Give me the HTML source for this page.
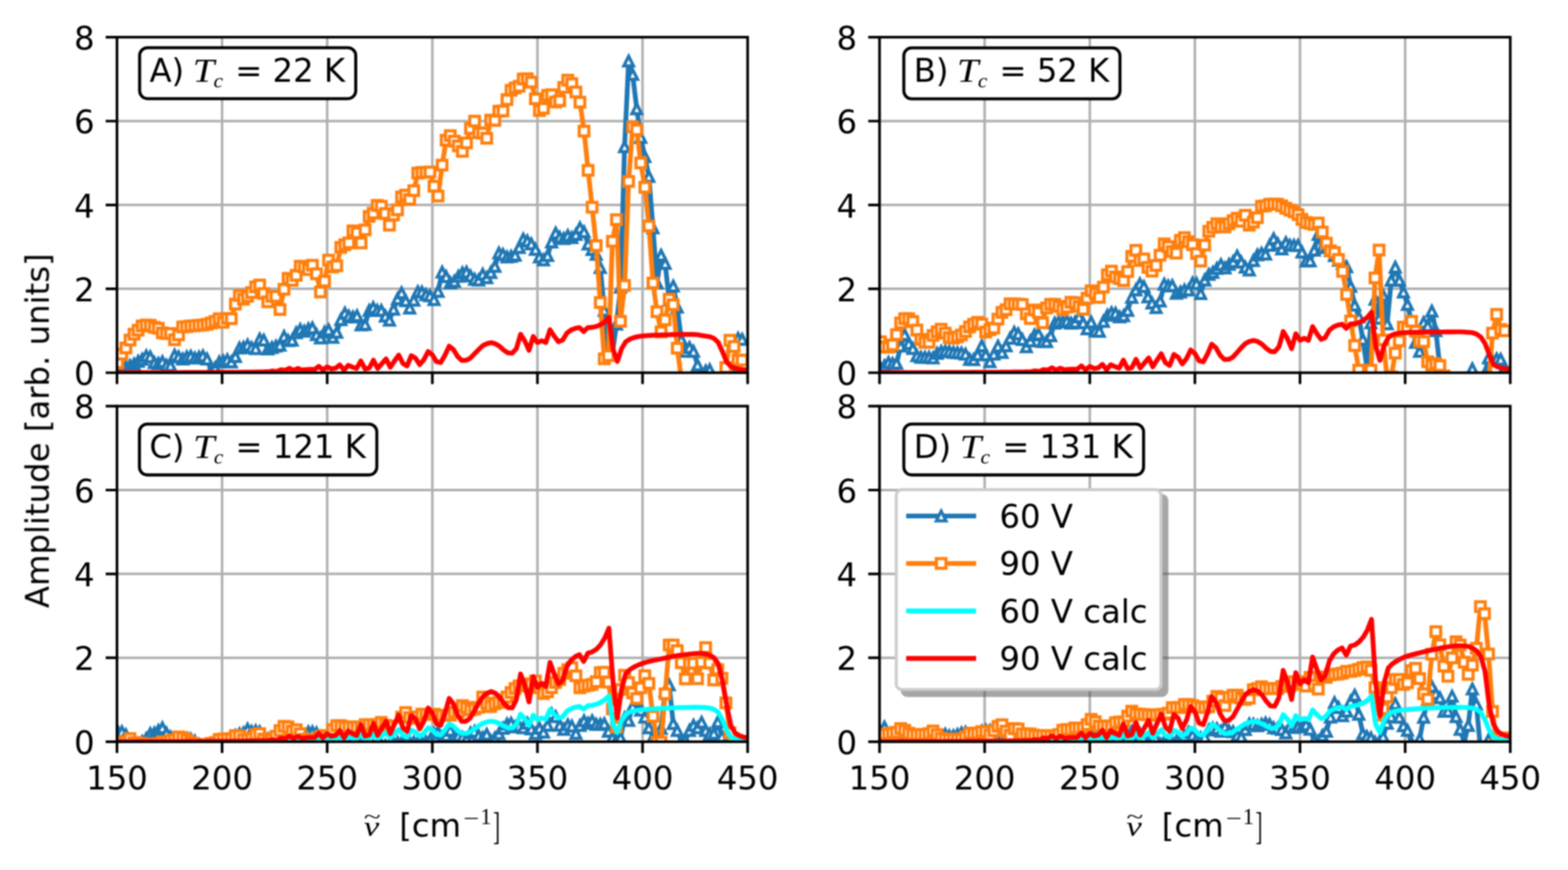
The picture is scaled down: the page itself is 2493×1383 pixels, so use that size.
<!DOCTYPE html>
<html lang="en"><head><meta charset="utf-8"><title>Amplitude spectra</title>
<style>html,body{margin:0;padding:0;background:#fff;overflow:hidden}svg{display:block}.t{font-family:'DejaVu Sans','Liberation Sans',sans-serif;font-size:51.4px;fill:#000}</style>
</head><body>
<svg xmlns="http://www.w3.org/2000/svg" width="2493" height="1383" viewBox="0 0 2493 1383">
<defs><rect id="ms" x="-7.7" y="-7.7" width="15.3" height="15.3" fill="#fff" stroke="#ff7f0e" stroke-width="5"/><path id="mt" d="M0 -7.7L-7.7 7.7L7.7 7.7z" fill="#fff" stroke="#1f77b4" stroke-width="5" stroke-linejoin="miter"/><filter id="bl" x="0" y="0" width="2493" height="1383" filterUnits="userSpaceOnUse" color-interpolation-filters="sRGB"><feGaussianBlur stdDeviation="0.8"/></filter></defs>
<rect width="2493" height="1383" fill="#fff"/>
<g filter="url(#bl)">
<g id="panelA">
<clipPath id="clipA"><rect x="186" y="59.1" width="1002.7" height="533.4"/></clipPath>
<path d="M353.1 59.1V592.5M520.2 59.1V592.5M687.4 59.1V592.5M854.5 59.1V592.5M1021.6 59.1V592.5M186 459.1H1188.7M186 325.8H1188.7M186 192.5H1188.7" stroke="#b0b0b0" stroke-width="4" fill="none"/>
<g clip-path="url(#clipA)">
<polyline points="187.3,589.2 193.8,587.1 200.2,583.4 206.7,581.4 213.1,578.8 219.6,574.6 226,571.4 232.5,565.7 238.9,567.3 245.4,576.6 251.8,577.7 258.2,575.1 264.7,580.8 271.1,581.4 277.6,564.6 284,567.3 290.5,570.9 296.9,567.3 303.3,566.2 309.8,569.4 316.3,567.8 322.7,565.7 329.2,570.9 335.6,588.6 342,585 348.5,575.6 354.9,574 361.4,572 367.8,575.6 374.3,566.8 380.7,553.2 387.1,552.2 393.6,548.5 400,552.7 406.5,554.2 412.9,539.1 419.4,540.7 425.8,554.8 432.3,552.6 438.7,550.4 445.2,548.7 451.6,534.8 458.1,541.6 464.5,540.9 470.9,529.1 477.4,523.9 483.8,526.5 490.3,522.8 496.7,521.2 503.2,532 509.6,537.2 516.1,528 522.5,524.5 529,536.4 535.4,528.4 541.9,508.2 548.3,497.8 554.7,502.5 561.2,504 567.6,502 574.1,516.6 580.5,515.8 587,493.6 593.4,489 599.8,493.6 606.3,493.6 612.7,502.6 619.2,509 625.7,491.6 632.1,475.1 638.5,465.5 645,478 651.4,489.8 657.9,477.2 664.3,463.9 670.8,464.4 677.2,468.6 683.6,470.2 690.1,476.2 696.5,463.2 703,432.6 709.4,439.9 715.9,449.8 722.3,447.2 728.8,439.4 735.2,433.7 741.7,432.6 748.1,438.9 754.6,444.1 761,445.4 767.5,436 773.9,441.5 780.3,433.4 786.8,423.5 793.2,402.3 799.7,404.5 806.1,408.6 812.6,407.5 819,405.8 825.5,393.5 831.9,380.1 838.4,383.1 844.8,387.7 851.3,396.6 857.7,408.6 864.1,413.3 870.6,406.3 877,384.9 883.5,370.5 889.9,377.3 896.4,379.4 902.8,374.5 909.2,377.9 915.7,372.9 922.1,362.2 928.6,368.5 935.1,388.1 941.5,396.7 947.9,404.3 954.4,425.4 960.8,493.4 967.3,553 973.7,561.7 980.2,515.3 986.6,456.5 993,233.4 999.5,97.1 1005.9,118.4 1012.4,173.1 1018.8,218.5 1025.3,249.1 1031.7,280.5 1038.2,362.3 1044.6,449.9 1051.1,405.9 1057.5,418.9 1064,477 1070.4,454.8 1076.8,488.2 1083.3,540 1089.7,558.5 1096.2,552.5 1102.6,558.5 1109.1,580.2 1115.5,594.2 1122,589.9 1128.4,587.8 1134.9,601.8 1141.3,607.3 1147.8,607.3 1154.2,607.3 1160.6,601.8 1167.1,580.2 1173.5,537.8 1180,539.5" fill="none" stroke="#1f77b4" stroke-width="7.6" stroke-linejoin="round" stroke-linecap="butt"/>
<use href="#mt" x="187.3" y="589.2"/><use href="#mt" x="193.8" y="587.1"/><use href="#mt" x="200.2" y="583.4"/><use href="#mt" x="206.7" y="581.4"/><use href="#mt" x="213.1" y="578.8"/><use href="#mt" x="219.6" y="574.6"/><use href="#mt" x="226" y="571.4"/><use href="#mt" x="232.5" y="565.7"/><use href="#mt" x="238.9" y="567.3"/><use href="#mt" x="245.4" y="576.6"/><use href="#mt" x="251.8" y="577.7"/><use href="#mt" x="258.2" y="575.1"/><use href="#mt" x="264.7" y="580.8"/><use href="#mt" x="271.1" y="581.4"/><use href="#mt" x="277.6" y="564.6"/><use href="#mt" x="284" y="567.3"/><use href="#mt" x="290.5" y="570.9"/><use href="#mt" x="296.9" y="567.3"/><use href="#mt" x="303.3" y="566.2"/><use href="#mt" x="309.8" y="569.4"/><use href="#mt" x="316.3" y="567.8"/><use href="#mt" x="322.7" y="565.7"/><use href="#mt" x="329.2" y="570.9"/><use href="#mt" x="335.6" y="588.6"/><use href="#mt" x="342" y="585"/><use href="#mt" x="348.5" y="575.6"/><use href="#mt" x="354.9" y="574"/><use href="#mt" x="361.4" y="572"/><use href="#mt" x="367.8" y="575.6"/><use href="#mt" x="374.3" y="566.8"/><use href="#mt" x="380.7" y="553.2"/><use href="#mt" x="387.1" y="552.2"/><use href="#mt" x="393.6" y="548.5"/><use href="#mt" x="400" y="552.7"/><use href="#mt" x="406.5" y="554.2"/><use href="#mt" x="412.9" y="539.1"/><use href="#mt" x="419.4" y="540.7"/><use href="#mt" x="425.8" y="554.8"/><use href="#mt" x="432.3" y="552.6"/><use href="#mt" x="438.7" y="550.4"/><use href="#mt" x="445.2" y="548.7"/><use href="#mt" x="451.6" y="534.8"/><use href="#mt" x="458.1" y="541.6"/><use href="#mt" x="464.5" y="540.9"/><use href="#mt" x="470.9" y="529.1"/><use href="#mt" x="477.4" y="523.9"/><use href="#mt" x="483.8" y="526.5"/><use href="#mt" x="490.3" y="522.8"/><use href="#mt" x="496.7" y="521.2"/><use href="#mt" x="503.2" y="532"/><use href="#mt" x="509.6" y="537.2"/><use href="#mt" x="516.1" y="528"/><use href="#mt" x="522.5" y="524.5"/><use href="#mt" x="529" y="536.4"/><use href="#mt" x="535.4" y="528.4"/><use href="#mt" x="541.9" y="508.2"/><use href="#mt" x="548.3" y="497.8"/><use href="#mt" x="554.7" y="502.5"/><use href="#mt" x="561.2" y="504"/><use href="#mt" x="567.6" y="502"/><use href="#mt" x="574.1" y="516.6"/><use href="#mt" x="580.5" y="515.8"/><use href="#mt" x="587" y="493.6"/><use href="#mt" x="593.4" y="489"/><use href="#mt" x="599.8" y="493.6"/><use href="#mt" x="606.3" y="493.6"/><use href="#mt" x="612.7" y="502.6"/><use href="#mt" x="619.2" y="509"/><use href="#mt" x="625.7" y="491.6"/><use href="#mt" x="632.1" y="475.1"/><use href="#mt" x="638.5" y="465.5"/><use href="#mt" x="645" y="478"/><use href="#mt" x="651.4" y="489.8"/><use href="#mt" x="657.9" y="477.2"/><use href="#mt" x="664.3" y="463.9"/><use href="#mt" x="670.8" y="464.4"/><use href="#mt" x="677.2" y="468.6"/><use href="#mt" x="683.6" y="470.2"/><use href="#mt" x="690.1" y="476.2"/><use href="#mt" x="696.5" y="463.2"/><use href="#mt" x="703" y="432.6"/><use href="#mt" x="709.4" y="439.9"/><use href="#mt" x="715.9" y="449.8"/><use href="#mt" x="722.3" y="447.2"/><use href="#mt" x="728.8" y="439.4"/><use href="#mt" x="735.2" y="433.7"/><use href="#mt" x="741.7" y="432.6"/><use href="#mt" x="748.1" y="438.9"/><use href="#mt" x="754.6" y="444.1"/><use href="#mt" x="761" y="445.4"/><use href="#mt" x="767.5" y="436"/><use href="#mt" x="773.9" y="441.5"/><use href="#mt" x="780.3" y="433.4"/><use href="#mt" x="786.8" y="423.5"/><use href="#mt" x="793.2" y="402.3"/><use href="#mt" x="799.7" y="404.5"/><use href="#mt" x="806.1" y="408.6"/><use href="#mt" x="812.6" y="407.5"/><use href="#mt" x="819" y="405.8"/><use href="#mt" x="825.5" y="393.5"/><use href="#mt" x="831.9" y="380.1"/><use href="#mt" x="838.4" y="383.1"/><use href="#mt" x="844.8" y="387.7"/><use href="#mt" x="851.3" y="396.6"/><use href="#mt" x="857.7" y="408.6"/><use href="#mt" x="864.1" y="413.3"/><use href="#mt" x="870.6" y="406.3"/><use href="#mt" x="877" y="384.9"/><use href="#mt" x="883.5" y="370.5"/><use href="#mt" x="889.9" y="377.3"/><use href="#mt" x="896.4" y="379.4"/><use href="#mt" x="902.8" y="374.5"/><use href="#mt" x="909.2" y="377.9"/><use href="#mt" x="915.7" y="372.9"/><use href="#mt" x="922.1" y="362.2"/><use href="#mt" x="928.6" y="368.5"/><use href="#mt" x="935.1" y="388.1"/><use href="#mt" x="941.5" y="396.7"/><use href="#mt" x="947.9" y="404.3"/><use href="#mt" x="954.4" y="425.4"/><use href="#mt" x="960.8" y="493.4"/><use href="#mt" x="967.3" y="553"/><use href="#mt" x="973.7" y="561.7"/><use href="#mt" x="980.2" y="515.3"/><use href="#mt" x="986.6" y="456.5"/><use href="#mt" x="993" y="233.4"/><use href="#mt" x="999.5" y="97.1"/><use href="#mt" x="1005.9" y="118.4"/><use href="#mt" x="1012.4" y="173.1"/><use href="#mt" x="1018.8" y="218.5"/><use href="#mt" x="1025.3" y="249.1"/><use href="#mt" x="1031.7" y="280.5"/><use href="#mt" x="1038.2" y="362.3"/><use href="#mt" x="1044.6" y="449.9"/><use href="#mt" x="1051.1" y="405.9"/><use href="#mt" x="1057.5" y="418.9"/><use href="#mt" x="1064" y="477"/><use href="#mt" x="1070.4" y="454.8"/><use href="#mt" x="1076.8" y="488.2"/><use href="#mt" x="1083.3" y="540"/><use href="#mt" x="1089.7" y="558.5"/><use href="#mt" x="1096.2" y="552.5"/><use href="#mt" x="1102.6" y="558.5"/><use href="#mt" x="1109.1" y="580.2"/><use href="#mt" x="1115.5" y="594.2"/><use href="#mt" x="1122" y="589.9"/><use href="#mt" x="1128.4" y="587.8"/><use href="#mt" x="1134.9" y="601.8"/><use href="#mt" x="1141.3" y="607.3"/><use href="#mt" x="1147.8" y="607.3"/><use href="#mt" x="1154.2" y="607.3"/><use href="#mt" x="1160.6" y="601.8"/><use href="#mt" x="1167.1" y="580.2"/><use href="#mt" x="1173.5" y="537.8"/><use href="#mt" x="1180" y="539.5"/>
<polyline points="187.3,577 193.8,563.1 200.2,553.2 206.7,540.7 213.1,531.3 219.6,525 226,518.2 232.5,516.7 238.9,517.2 245.4,520.4 251.8,521.9 258.2,529.2 264.7,530.2 271.1,530.2 277.6,540.2 284,532.4 290.5,519.8 296.9,519.3 303.3,518.2 309.8,517.8 316.3,517.2 322.7,516.7 329.2,515.6 335.6,513.6 342,511 348.5,506.8 354.9,512.5 361.4,506.3 367.8,506.6 374.3,483.5 380.7,469.8 387.1,475.7 393.6,471.2 400,465.2 406.5,456.1 412.9,453.1 419.4,466.6 425.8,479.8 432.3,471.2 438.7,471.2 445.2,492.1 451.6,460 458.1,442.5 464.5,445.8 470.9,437.7 477.4,423.2 483.8,424.5 490.3,428.6 496.7,421.7 503.2,435.3 509.6,464.2 516.1,447 522.5,413.6 529,424.5 535.4,422.5 541.9,393.3 548.3,389.1 554.7,386.1 561.2,367 567.6,370.1 574.1,386.3 580.5,365.5 587,344.1 593.4,338.9 599.8,326.5 606.3,327.9 612.7,339.5 619.2,358 625.7,341.8 632.1,333.7 638.5,313.1 645,310.2 651.4,316.9 657.9,303.1 664.3,275.3 670.8,274.1 677.2,274.1 683.6,273.5 690.1,296.1 696.5,311.7 703,262.5 709.4,222.9 715.9,215.7 722.3,224.4 728.8,231.9 735.2,240.6 741.7,227.3 748.1,204.4 754.6,192.6 761,211.1 767.5,211.7 773.9,219.8 780.3,191 786.8,191.4 793.2,176.9 799.7,176.4 806.1,158.4 812.6,143.6 819,139.9 825.5,137.2 831.9,125.7 838.4,125.2 844.8,130.6 851.3,157.2 857.7,175.8 864.1,172.3 870.6,151.7 877,150.6 883.5,162.1 889.9,160.2 896.4,139 902.8,127.4 909.2,133 915.7,146.3 922.1,162.5 928.6,208.5 935.1,270.9 941.5,329.5 947.9,390.5 954.4,480.9 960.8,570.4 967.3,565.5 973.7,383.7 980.2,349.3 986.6,510.8 993,453.8 999.5,288.5 1005.9,201.8 1012.4,206.5 1018.8,259.1 1025.3,297.8 1031.7,359.3 1038.2,449.9 1044.6,495.6 1051.1,527.6 1057.5,508.6 1064,475.8 1070.4,484.5 1076.8,553.6 1083.3,601.8 1089.7,612.7 1096.2,612.7 1102.6,612.7 1109.1,612.7 1115.5,612.7 1122,612.7 1128.4,612.7 1134.9,612.7 1141.3,612.7 1147.8,601.8 1154.2,584.3 1160.6,540.9 1167.1,550.9 1173.5,572.4 1180,572.6" fill="none" stroke="#ff7f0e" stroke-width="7.6" stroke-linejoin="round" stroke-linecap="butt"/>
<use href="#ms" x="187.3" y="577"/><use href="#ms" x="193.8" y="563.1"/><use href="#ms" x="200.2" y="553.2"/><use href="#ms" x="206.7" y="540.7"/><use href="#ms" x="213.1" y="531.3"/><use href="#ms" x="219.6" y="525"/><use href="#ms" x="226" y="518.2"/><use href="#ms" x="232.5" y="516.7"/><use href="#ms" x="238.9" y="517.2"/><use href="#ms" x="245.4" y="520.4"/><use href="#ms" x="251.8" y="521.9"/><use href="#ms" x="258.2" y="529.2"/><use href="#ms" x="264.7" y="530.2"/><use href="#ms" x="271.1" y="530.2"/><use href="#ms" x="277.6" y="540.2"/><use href="#ms" x="284" y="532.4"/><use href="#ms" x="290.5" y="519.8"/><use href="#ms" x="296.9" y="519.3"/><use href="#ms" x="303.3" y="518.2"/><use href="#ms" x="309.8" y="517.8"/><use href="#ms" x="316.3" y="517.2"/><use href="#ms" x="322.7" y="516.7"/><use href="#ms" x="329.2" y="515.6"/><use href="#ms" x="335.6" y="513.6"/><use href="#ms" x="342" y="511"/><use href="#ms" x="348.5" y="506.8"/><use href="#ms" x="354.9" y="512.5"/><use href="#ms" x="361.4" y="506.3"/><use href="#ms" x="367.8" y="506.6"/><use href="#ms" x="374.3" y="483.5"/><use href="#ms" x="380.7" y="469.8"/><use href="#ms" x="387.1" y="475.7"/><use href="#ms" x="393.6" y="471.2"/><use href="#ms" x="400" y="465.2"/><use href="#ms" x="406.5" y="456.1"/><use href="#ms" x="412.9" y="453.1"/><use href="#ms" x="419.4" y="466.6"/><use href="#ms" x="425.8" y="479.8"/><use href="#ms" x="432.3" y="471.2"/><use href="#ms" x="438.7" y="471.2"/><use href="#ms" x="445.2" y="492.1"/><use href="#ms" x="451.6" y="460"/><use href="#ms" x="458.1" y="442.5"/><use href="#ms" x="464.5" y="445.8"/><use href="#ms" x="470.9" y="437.7"/><use href="#ms" x="477.4" y="423.2"/><use href="#ms" x="483.8" y="424.5"/><use href="#ms" x="490.3" y="428.6"/><use href="#ms" x="496.7" y="421.7"/><use href="#ms" x="503.2" y="435.3"/><use href="#ms" x="509.6" y="464.2"/><use href="#ms" x="516.1" y="447"/><use href="#ms" x="522.5" y="413.6"/><use href="#ms" x="529" y="424.5"/><use href="#ms" x="535.4" y="422.5"/><use href="#ms" x="541.9" y="393.3"/><use href="#ms" x="548.3" y="389.1"/><use href="#ms" x="554.7" y="386.1"/><use href="#ms" x="561.2" y="367"/><use href="#ms" x="567.6" y="370.1"/><use href="#ms" x="574.1" y="386.3"/><use href="#ms" x="580.5" y="365.5"/><use href="#ms" x="587" y="344.1"/><use href="#ms" x="593.4" y="338.9"/><use href="#ms" x="599.8" y="326.5"/><use href="#ms" x="606.3" y="327.9"/><use href="#ms" x="612.7" y="339.5"/><use href="#ms" x="619.2" y="358"/><use href="#ms" x="625.7" y="341.8"/><use href="#ms" x="632.1" y="333.7"/><use href="#ms" x="638.5" y="313.1"/><use href="#ms" x="645" y="310.2"/><use href="#ms" x="651.4" y="316.9"/><use href="#ms" x="657.9" y="303.1"/><use href="#ms" x="664.3" y="275.3"/><use href="#ms" x="670.8" y="274.1"/><use href="#ms" x="677.2" y="274.1"/><use href="#ms" x="683.6" y="273.5"/><use href="#ms" x="690.1" y="296.1"/><use href="#ms" x="696.5" y="311.7"/><use href="#ms" x="703" y="262.5"/><use href="#ms" x="709.4" y="222.9"/><use href="#ms" x="715.9" y="215.7"/><use href="#ms" x="722.3" y="224.4"/><use href="#ms" x="728.8" y="231.9"/><use href="#ms" x="735.2" y="240.6"/><use href="#ms" x="741.7" y="227.3"/><use href="#ms" x="748.1" y="204.4"/><use href="#ms" x="754.6" y="192.6"/><use href="#ms" x="761" y="211.1"/><use href="#ms" x="767.5" y="211.7"/><use href="#ms" x="773.9" y="219.8"/><use href="#ms" x="780.3" y="191"/><use href="#ms" x="786.8" y="191.4"/><use href="#ms" x="793.2" y="176.9"/><use href="#ms" x="799.7" y="176.4"/><use href="#ms" x="806.1" y="158.4"/><use href="#ms" x="812.6" y="143.6"/><use href="#ms" x="819" y="139.9"/><use href="#ms" x="825.5" y="137.2"/><use href="#ms" x="831.9" y="125.7"/><use href="#ms" x="838.4" y="125.2"/><use href="#ms" x="844.8" y="130.6"/><use href="#ms" x="851.3" y="157.2"/><use href="#ms" x="857.7" y="175.8"/><use href="#ms" x="864.1" y="172.3"/><use href="#ms" x="870.6" y="151.7"/><use href="#ms" x="877" y="150.6"/><use href="#ms" x="883.5" y="162.1"/><use href="#ms" x="889.9" y="160.2"/><use href="#ms" x="896.4" y="139"/><use href="#ms" x="902.8" y="127.4"/><use href="#ms" x="909.2" y="133"/><use href="#ms" x="915.7" y="146.3"/><use href="#ms" x="922.1" y="162.5"/><use href="#ms" x="928.6" y="208.5"/><use href="#ms" x="935.1" y="270.9"/><use href="#ms" x="941.5" y="329.5"/><use href="#ms" x="947.9" y="390.5"/><use href="#ms" x="954.4" y="480.9"/><use href="#ms" x="960.8" y="570.4"/><use href="#ms" x="967.3" y="565.5"/><use href="#ms" x="973.7" y="383.7"/><use href="#ms" x="980.2" y="349.3"/><use href="#ms" x="986.6" y="510.8"/><use href="#ms" x="993" y="453.8"/><use href="#ms" x="999.5" y="288.5"/><use href="#ms" x="1005.9" y="201.8"/><use href="#ms" x="1012.4" y="206.5"/><use href="#ms" x="1018.8" y="259.1"/><use href="#ms" x="1025.3" y="297.8"/><use href="#ms" x="1031.7" y="359.3"/><use href="#ms" x="1038.2" y="449.9"/><use href="#ms" x="1044.6" y="495.6"/><use href="#ms" x="1051.1" y="527.6"/><use href="#ms" x="1057.5" y="508.6"/><use href="#ms" x="1064" y="475.8"/><use href="#ms" x="1070.4" y="484.5"/><use href="#ms" x="1076.8" y="553.6"/><use href="#ms" x="1083.3" y="601.8"/><use href="#ms" x="1089.7" y="612.7"/><use href="#ms" x="1096.2" y="612.7"/><use href="#ms" x="1102.6" y="612.7"/><use href="#ms" x="1109.1" y="612.7"/><use href="#ms" x="1115.5" y="612.7"/><use href="#ms" x="1122" y="612.7"/><use href="#ms" x="1128.4" y="612.7"/><use href="#ms" x="1134.9" y="612.7"/><use href="#ms" x="1141.3" y="612.7"/><use href="#ms" x="1147.8" y="601.8"/><use href="#ms" x="1154.2" y="584.3"/><use href="#ms" x="1160.6" y="540.9"/><use href="#ms" x="1167.1" y="550.9"/><use href="#ms" x="1173.5" y="572.4"/><use href="#ms" x="1180" y="572.6"/>
<polyline points="186,592.5 192.7,592.5 199.4,592.4 206.1,592.4 212.7,592.4 219.4,592.4 226.1,592.4 232.8,592.3 239.5,592.3 246.2,592.3 252.8,592.3 259.5,592.2 266.2,592.2 272.9,592.2 279.6,592.2 286.3,592.2 293,592.1 299.6,592.1 306.3,592.1 313,592.1 319.7,592 326.4,592 333.1,592 339.7,591.9 346.4,591.9 353.1,591.9 359.8,591.8 366.5,591.8 373.2,591.7 379.9,591.7 386.5,591.6 393.2,591.6 399.9,591.5 406.6,591.4 413.3,591.3 420,591.1 426.6,590.9 433.3,589.8 440,590.6 446.7,587.7 453.4,588.6 460.1,585.3 466.8,588.6 473.4,585.7 480.1,588.1 486.8,587.5 493.5,587.1 500.2,587.4 506.9,582.4 513.5,588 520.2,583.2 526.9,586.2 533.6,585.3 540.3,580.1 547,588.2 553.7,580.7 560.3,583.6 567,585.6 573.7,573.8 580.4,586.4 587.1,585 593.8,572.6 600.4,585.6 607.1,578.1 613.8,570.5 620.5,583.8 627.2,573.8 633.9,564.4 640.6,577.8 647.2,581.8 653.9,565.4 660.6,569.3 667.3,579.6 674,571.8 680.7,558.8 687.4,564.1 694,574.9 700.7,576.3 707.4,564.9 714.1,550.3 720.8,555.6 727.5,566.6 734.1,572.9 740.8,572.8 747.5,569.6 754.2,562.7 760.9,555.8 767.6,549.4 774.3,546.2 780.9,544.7 787.6,546.5 794.3,550.6 801,556.6 807.7,561 814.4,561.5 821,554.2 827.7,531.4 834.4,542 841.1,557 847.8,534.9 854.5,544.6 861.2,541.6 867.8,544.6 874.5,524.2 881.2,534.5 887.9,543.3 894.6,540.6 901.3,529.5 907.9,524.6 914.6,522 921.3,520.8 928,526.9 934.7,520.7 941.4,520.4 948.1,518.9 954.7,516.2 961.4,511.6 968.1,504.5 974.8,555.5 981.5,574.5 988.2,554.4 994.8,543.4 1001.5,539 1008.2,536.5 1014.9,535 1021.6,534.1 1028.3,533.5 1035,533.1 1041.6,532.8 1048.3,532.6 1055,532.4 1061.7,532.2 1068.4,531.9 1075.1,531.7 1081.7,531.6 1088.4,531.6 1095.1,531.6 1101.8,531.6 1108.5,532 1115.2,533.2 1121.9,534.3 1128.5,535.2 1135.2,538 1141.9,544.3 1148.6,558.9 1155.3,575.3 1162,582.4 1168.6,585.3 1175.3,586.7 1182,587.6 1188.7,588" fill="none" stroke="#ff0000" stroke-width="7.6" stroke-linejoin="round" stroke-linecap="butt"/>
</g>
<path d="M186 592.5v18M353.1 592.5v18M520.2 592.5v18M687.4 592.5v18M854.5 592.5v18M1021.6 592.5v18M1188.7 592.5v18M186 592.5h-18M186 459.1h-18M186 325.8h-18M186 192.5h-18M186 59.1h-18" stroke="#000" stroke-width="4.2" fill="none"/>
<rect x="186" y="59.1" width="1002.7" height="533.4" fill="none" stroke="#000" stroke-width="4.2" stroke-linejoin="miter"/>
<text x="150.4" y="612.2" text-anchor="end" class="t">0</text>
<text x="150.4" y="478.8" text-anchor="end" class="t">2</text>
<text x="150.4" y="345.5" text-anchor="end" class="t">4</text>
<text x="150.4" y="212.2" text-anchor="end" class="t">6</text>
<text x="150.4" y="78.8" text-anchor="end" class="t">8</text>
<rect x="222" y="75.9" width="343.6" height="80.9" rx="12.5" ry="12.5" fill="#fff" stroke="#000" stroke-width="4.8"/>
<text x="237.7" y="130.1" class="t">A)</text>
<text transform="translate(306.5,130.1) scale(1.163,1)" style="font-family:'Liberation Serif','DejaVu Serif',serif;font-style:italic;font-size:52.9px">T</text>
<text transform="translate(339.6,138.7) scale(1.055,1)" style="font-family:'Liberation Serif','DejaVu Serif',serif;font-style:italic;font-size:32.1px">c</text>
<text x="373.9" y="130.1" class="t" xml:space="preserve">= 22 K</text>
</g>
<g id="panelB">
<clipPath id="clipB"><rect x="1398.4" y="59.1" width="1002.8" height="533.4"/></clipPath>
<path d="M1565.5 59.1V592.5M1732.7 59.1V592.5M1899.8 59.1V592.5M2066.9 59.1V592.5M2234.1 59.1V592.5M1398.4 459.1H2401.2M1398.4 325.8H2401.2M1398.4 192.5H2401.2" stroke="#b0b0b0" stroke-width="4" fill="none"/>
<g clip-path="url(#clipB)">
<polyline points="1399.7,585 1406.2,581.6 1412.6,576.4 1419.1,578 1425.5,577.6 1432,550.4 1438.4,532 1444.9,546.2 1451.3,554.1 1457.8,565.6 1464.2,568 1470.6,568 1477.1,568 1483.5,569.1 1490,561.7 1496.4,558.9 1502.9,558.3 1509.3,559.1 1515.8,560.2 1522.2,560.7 1528.7,561.2 1535.1,563 1541.6,571.4 1548,571.9 1554.4,564 1560.9,549.9 1567.3,564 1573.8,575 1580.2,563 1586.7,550.2 1593.1,560.4 1599.6,549.9 1606,537.8 1612.5,528.2 1618.9,530.9 1625.4,539.9 1631.8,551.4 1638.2,542 1644.7,532.6 1651.1,531.2 1657.6,543.1 1664,543.1 1670.5,533.8 1676.9,513.7 1683.4,511.8 1689.8,511.8 1696.3,510.4 1702.7,513.8 1709.2,512.4 1715.6,503.9 1722.1,513.2 1728.5,522.8 1734.9,512.1 1741.4,526.2 1747.8,526.7 1754.3,511.1 1760.7,501.3 1767.2,497.2 1773.6,498 1780.1,503.9 1786.5,502.1 1793,493.5 1799.4,472.7 1805.9,461 1812.3,451.2 1818.7,455.6 1825.2,472 1831.6,481.8 1838.1,489 1844.5,478.6 1851,451.9 1857.4,454.5 1863.9,454.1 1870.3,466.3 1876.8,464.2 1883.2,461 1889.7,461 1896.1,450.1 1902.5,450.9 1909,466.7 1915.4,445.2 1921.9,436.2 1928.3,433 1934.8,426.7 1941.2,420.7 1947.7,426.1 1954.1,420.4 1960.6,416.1 1967,407.1 1973.5,416.7 1979.9,424.9 1986.3,429.3 1992.8,414.4 1999.2,405.2 2005.7,402.9 2012.1,404.1 2018.6,390.1 2025,379.5 2031.5,387.6 2037.9,395.8 2044.4,385.9 2050.8,390 2057.3,390 2063.7,390.4 2070.1,400.9 2076.6,415.1 2083,414.8 2089.5,397.7 2095.9,372.7 2102.4,393.5 2108.9,393.5 2115.3,398.6 2121.7,406.2 2128.2,413.8 2134.6,418.9 2141.1,424.2 2147.5,455.3 2153.9,485.1 2160.4,503.9 2166.8,539.4 2173.3,584.3 2179.7,513.2 2186.2,475.8 2192.7,506.1 2199.1,469.6 2205.5,514.8 2212,445.5 2218.4,424.7 2224.9,445.5 2231.3,464.3 2237.8,484.1 2244.2,511.3 2250.6,544.4 2257.1,558.6 2263.5,512.8 2270,518 2276.5,494.5 2282.9,525.7 2289.3,584.3 2295.8,605.2 2302.2,610.4 2308.7,610.4 2315.1,610.4 2321.6,610.4 2328,610.4 2334.4,600 2340.9,586.3 2347.3,600 2353.8,605.2 2360.3,594.7 2366.7,569 2373.1,573.8 2379.6,570.6 2386,571.2 2392.5,584.3" fill="none" stroke="#1f77b4" stroke-width="7.6" stroke-linejoin="round" stroke-linecap="butt"/>
<use href="#mt" x="1399.7" y="585"/><use href="#mt" x="1406.2" y="581.6"/><use href="#mt" x="1412.6" y="576.4"/><use href="#mt" x="1419.1" y="578"/><use href="#mt" x="1425.5" y="577.6"/><use href="#mt" x="1432" y="550.4"/><use href="#mt" x="1438.4" y="532"/><use href="#mt" x="1444.9" y="546.2"/><use href="#mt" x="1451.3" y="554.1"/><use href="#mt" x="1457.8" y="565.6"/><use href="#mt" x="1464.2" y="568"/><use href="#mt" x="1470.6" y="568"/><use href="#mt" x="1477.1" y="568"/><use href="#mt" x="1483.5" y="569.1"/><use href="#mt" x="1490" y="561.7"/><use href="#mt" x="1496.4" y="558.9"/><use href="#mt" x="1502.9" y="558.3"/><use href="#mt" x="1509.3" y="559.1"/><use href="#mt" x="1515.8" y="560.2"/><use href="#mt" x="1522.2" y="560.7"/><use href="#mt" x="1528.7" y="561.2"/><use href="#mt" x="1535.1" y="563"/><use href="#mt" x="1541.6" y="571.4"/><use href="#mt" x="1548" y="571.9"/><use href="#mt" x="1554.4" y="564"/><use href="#mt" x="1560.9" y="549.9"/><use href="#mt" x="1567.3" y="564"/><use href="#mt" x="1573.8" y="575"/><use href="#mt" x="1580.2" y="563"/><use href="#mt" x="1586.7" y="550.2"/><use href="#mt" x="1593.1" y="560.4"/><use href="#mt" x="1599.6" y="549.9"/><use href="#mt" x="1606" y="537.8"/><use href="#mt" x="1612.5" y="528.2"/><use href="#mt" x="1618.9" y="530.9"/><use href="#mt" x="1625.4" y="539.9"/><use href="#mt" x="1631.8" y="551.4"/><use href="#mt" x="1638.2" y="542"/><use href="#mt" x="1644.7" y="532.6"/><use href="#mt" x="1651.1" y="531.2"/><use href="#mt" x="1657.6" y="543.1"/><use href="#mt" x="1664" y="543.1"/><use href="#mt" x="1670.5" y="533.8"/><use href="#mt" x="1676.9" y="513.7"/><use href="#mt" x="1683.4" y="511.8"/><use href="#mt" x="1689.8" y="511.8"/><use href="#mt" x="1696.3" y="510.4"/><use href="#mt" x="1702.7" y="513.8"/><use href="#mt" x="1709.2" y="512.4"/><use href="#mt" x="1715.6" y="503.9"/><use href="#mt" x="1722.1" y="513.2"/><use href="#mt" x="1728.5" y="522.8"/><use href="#mt" x="1734.9" y="512.1"/><use href="#mt" x="1741.4" y="526.2"/><use href="#mt" x="1747.8" y="526.7"/><use href="#mt" x="1754.3" y="511.1"/><use href="#mt" x="1760.7" y="501.3"/><use href="#mt" x="1767.2" y="497.2"/><use href="#mt" x="1773.6" y="498"/><use href="#mt" x="1780.1" y="503.9"/><use href="#mt" x="1786.5" y="502.1"/><use href="#mt" x="1793" y="493.5"/><use href="#mt" x="1799.4" y="472.7"/><use href="#mt" x="1805.9" y="461"/><use href="#mt" x="1812.3" y="451.2"/><use href="#mt" x="1818.7" y="455.6"/><use href="#mt" x="1825.2" y="472"/><use href="#mt" x="1831.6" y="481.8"/><use href="#mt" x="1838.1" y="489"/><use href="#mt" x="1844.5" y="478.6"/><use href="#mt" x="1851" y="451.9"/><use href="#mt" x="1857.4" y="454.5"/><use href="#mt" x="1863.9" y="454.1"/><use href="#mt" x="1870.3" y="466.3"/><use href="#mt" x="1876.8" y="464.2"/><use href="#mt" x="1883.2" y="461"/><use href="#mt" x="1889.7" y="461"/><use href="#mt" x="1896.1" y="450.1"/><use href="#mt" x="1902.5" y="450.9"/><use href="#mt" x="1909" y="466.7"/><use href="#mt" x="1915.4" y="445.2"/><use href="#mt" x="1921.9" y="436.2"/><use href="#mt" x="1928.3" y="433"/><use href="#mt" x="1934.8" y="426.7"/><use href="#mt" x="1941.2" y="420.7"/><use href="#mt" x="1947.7" y="426.1"/><use href="#mt" x="1954.1" y="420.4"/><use href="#mt" x="1960.6" y="416.1"/><use href="#mt" x="1967" y="407.1"/><use href="#mt" x="1973.5" y="416.7"/><use href="#mt" x="1979.9" y="424.9"/><use href="#mt" x="1986.3" y="429.3"/><use href="#mt" x="1992.8" y="414.4"/><use href="#mt" x="1999.2" y="405.2"/><use href="#mt" x="2005.7" y="402.9"/><use href="#mt" x="2012.1" y="404.1"/><use href="#mt" x="2018.6" y="390.1"/><use href="#mt" x="2025" y="379.5"/><use href="#mt" x="2031.5" y="387.6"/><use href="#mt" x="2037.9" y="395.8"/><use href="#mt" x="2044.4" y="385.9"/><use href="#mt" x="2050.8" y="390"/><use href="#mt" x="2057.3" y="390"/><use href="#mt" x="2063.7" y="390.4"/><use href="#mt" x="2070.1" y="400.9"/><use href="#mt" x="2076.6" y="415.1"/><use href="#mt" x="2083" y="414.8"/><use href="#mt" x="2089.5" y="397.7"/><use href="#mt" x="2095.9" y="372.7"/><use href="#mt" x="2102.4" y="393.5"/><use href="#mt" x="2108.9" y="393.5"/><use href="#mt" x="2115.3" y="398.6"/><use href="#mt" x="2121.7" y="406.2"/><use href="#mt" x="2128.2" y="413.8"/><use href="#mt" x="2134.6" y="418.9"/><use href="#mt" x="2141.1" y="424.2"/><use href="#mt" x="2147.5" y="455.3"/><use href="#mt" x="2153.9" y="485.1"/><use href="#mt" x="2160.4" y="503.9"/><use href="#mt" x="2166.8" y="539.4"/><use href="#mt" x="2173.3" y="584.3"/><use href="#mt" x="2179.7" y="513.2"/><use href="#mt" x="2186.2" y="475.8"/><use href="#mt" x="2192.7" y="506.1"/><use href="#mt" x="2199.1" y="469.6"/><use href="#mt" x="2205.5" y="514.8"/><use href="#mt" x="2212" y="445.5"/><use href="#mt" x="2218.4" y="424.7"/><use href="#mt" x="2224.9" y="445.5"/><use href="#mt" x="2231.3" y="464.3"/><use href="#mt" x="2237.8" y="484.1"/><use href="#mt" x="2244.2" y="511.3"/><use href="#mt" x="2250.6" y="544.4"/><use href="#mt" x="2257.1" y="558.6"/><use href="#mt" x="2263.5" y="512.8"/><use href="#mt" x="2270" y="518"/><use href="#mt" x="2276.5" y="494.5"/><use href="#mt" x="2282.9" y="525.7"/><use href="#mt" x="2289.3" y="584.3"/><use href="#mt" x="2295.8" y="605.2"/><use href="#mt" x="2302.2" y="610.4"/><use href="#mt" x="2308.7" y="610.4"/><use href="#mt" x="2315.1" y="610.4"/><use href="#mt" x="2321.6" y="610.4"/><use href="#mt" x="2328" y="610.4"/><use href="#mt" x="2334.4" y="600"/><use href="#mt" x="2340.9" y="586.3"/><use href="#mt" x="2347.3" y="600"/><use href="#mt" x="2353.8" y="605.2"/><use href="#mt" x="2360.3" y="594.7"/><use href="#mt" x="2366.7" y="569"/><use href="#mt" x="2373.1" y="573.8"/><use href="#mt" x="2379.6" y="570.6"/><use href="#mt" x="2386" y="571.2"/><use href="#mt" x="2392.5" y="584.3"/>
<polyline points="1399.7,543.3 1406.2,551.4 1412.6,552 1419.1,548.3 1425.5,532 1432,513.4 1438.4,506.6 1444.9,506.6 1451.3,511.1 1457.8,524.7 1464.2,539.6 1470.6,544.4 1477.1,544.1 1483.5,533.3 1490,527.6 1496.4,523.4 1502.9,529.6 1509.3,536.6 1515.8,537.6 1522.2,535.7 1528.7,532.6 1535.1,527 1541.6,519.7 1548,515.5 1554.4,512.4 1560.9,515 1567.3,527.9 1573.8,524.2 1580.2,521.6 1586.7,507.4 1593.1,496.6 1599.6,492.4 1606,483 1612.5,483 1618.9,483.5 1625.4,484 1631.8,499 1638.2,506.4 1644.7,492.8 1651.1,496.9 1657.6,513.2 1664,489.6 1670.5,483.8 1676.9,483.8 1683.4,487.1 1689.8,492.4 1696.3,488.4 1702.7,480.5 1709.2,481.3 1715.6,487.1 1722.1,491.7 1728.5,474.1 1734.9,462.3 1741.4,467 1747.8,472.8 1754.3,456.5 1760.7,436.9 1767.2,431 1773.6,440.3 1780.1,442.9 1786.5,446.1 1793,431.8 1799.4,407.6 1805.9,398 1812.3,414.1 1818.7,411.6 1825.2,425.1 1831.6,431.1 1838.1,422.1 1844.5,405.8 1851,387.7 1857.4,392.1 1863.9,399.9 1870.3,402.5 1876.8,382.2 1883.2,377.8 1889.7,384.3 1896.1,389.1 1902.5,403.1 1909,415.1 1915.4,389.7 1921.9,367.7 1928.3,361.4 1934.8,355.7 1941.2,360.7 1947.7,360.7 1954.1,355.6 1960.6,350.7 1967,346.9 1973.5,351.8 1979.9,342.3 1986.3,358 1992.8,353.1 1999.2,346.1 2005.7,327.9 2012.1,327.3 2018.6,324.7 2025,324.5 2031.5,324.7 2037.9,327.3 2044.4,331.1 2050.8,334.1 2057.3,336.7 2063.7,341.2 2070.1,348.8 2076.6,353.7 2083,355.1 2089.5,356.9 2095.9,354.6 2102.4,368.9 2108.9,386.6 2115.3,398.7 2121.7,401.5 2128.2,412.5 2134.6,431.5 2141.1,468.2 2147.5,510.2 2153.9,549.4 2160.4,588.4 2166.8,605.2 2173.3,605.2 2179.7,588.4 2186.2,441.9 2192.7,397.6 2199.1,540.5 2205.5,602 2212,598.9 2218.4,561.4 2224.9,542 2231.3,520 2237.8,521.7 2244.2,510.8 2250.6,526.7 2257.1,542.6 2263.5,543.1 2270,575.2 2276.5,580.1 2282.9,578 2289.3,581.2 2295.8,597.6 2302.2,615.6 2308.7,615.6 2315.1,615.6 2321.6,615.6 2328,615.6 2334.4,615.6 2340.9,615.6 2347.3,615.6 2353.8,615.6 2360.3,615.6 2366.7,612.4 2373.1,529.6 2379.6,499.8 2386,523.8 2392.5,525.9" fill="none" stroke="#ff7f0e" stroke-width="7.6" stroke-linejoin="round" stroke-linecap="butt"/>
<use href="#ms" x="1399.7" y="543.3"/><use href="#ms" x="1406.2" y="551.4"/><use href="#ms" x="1412.6" y="552"/><use href="#ms" x="1419.1" y="548.3"/><use href="#ms" x="1425.5" y="532"/><use href="#ms" x="1432" y="513.4"/><use href="#ms" x="1438.4" y="506.6"/><use href="#ms" x="1444.9" y="506.6"/><use href="#ms" x="1451.3" y="511.1"/><use href="#ms" x="1457.8" y="524.7"/><use href="#ms" x="1464.2" y="539.6"/><use href="#ms" x="1470.6" y="544.4"/><use href="#ms" x="1477.1" y="544.1"/><use href="#ms" x="1483.5" y="533.3"/><use href="#ms" x="1490" y="527.6"/><use href="#ms" x="1496.4" y="523.4"/><use href="#ms" x="1502.9" y="529.6"/><use href="#ms" x="1509.3" y="536.6"/><use href="#ms" x="1515.8" y="537.6"/><use href="#ms" x="1522.2" y="535.7"/><use href="#ms" x="1528.7" y="532.6"/><use href="#ms" x="1535.1" y="527"/><use href="#ms" x="1541.6" y="519.7"/><use href="#ms" x="1548" y="515.5"/><use href="#ms" x="1554.4" y="512.4"/><use href="#ms" x="1560.9" y="515"/><use href="#ms" x="1567.3" y="527.9"/><use href="#ms" x="1573.8" y="524.2"/><use href="#ms" x="1580.2" y="521.6"/><use href="#ms" x="1586.7" y="507.4"/><use href="#ms" x="1593.1" y="496.6"/><use href="#ms" x="1599.6" y="492.4"/><use href="#ms" x="1606" y="483"/><use href="#ms" x="1612.5" y="483"/><use href="#ms" x="1618.9" y="483.5"/><use href="#ms" x="1625.4" y="484"/><use href="#ms" x="1631.8" y="499"/><use href="#ms" x="1638.2" y="506.4"/><use href="#ms" x="1644.7" y="492.8"/><use href="#ms" x="1651.1" y="496.9"/><use href="#ms" x="1657.6" y="513.2"/><use href="#ms" x="1664" y="489.6"/><use href="#ms" x="1670.5" y="483.8"/><use href="#ms" x="1676.9" y="483.8"/><use href="#ms" x="1683.4" y="487.1"/><use href="#ms" x="1689.8" y="492.4"/><use href="#ms" x="1696.3" y="488.4"/><use href="#ms" x="1702.7" y="480.5"/><use href="#ms" x="1709.2" y="481.3"/><use href="#ms" x="1715.6" y="487.1"/><use href="#ms" x="1722.1" y="491.7"/><use href="#ms" x="1728.5" y="474.1"/><use href="#ms" x="1734.9" y="462.3"/><use href="#ms" x="1741.4" y="467"/><use href="#ms" x="1747.8" y="472.8"/><use href="#ms" x="1754.3" y="456.5"/><use href="#ms" x="1760.7" y="436.9"/><use href="#ms" x="1767.2" y="431"/><use href="#ms" x="1773.6" y="440.3"/><use href="#ms" x="1780.1" y="442.9"/><use href="#ms" x="1786.5" y="446.1"/><use href="#ms" x="1793" y="431.8"/><use href="#ms" x="1799.4" y="407.6"/><use href="#ms" x="1805.9" y="398"/><use href="#ms" x="1812.3" y="414.1"/><use href="#ms" x="1818.7" y="411.6"/><use href="#ms" x="1825.2" y="425.1"/><use href="#ms" x="1831.6" y="431.1"/><use href="#ms" x="1838.1" y="422.1"/><use href="#ms" x="1844.5" y="405.8"/><use href="#ms" x="1851" y="387.7"/><use href="#ms" x="1857.4" y="392.1"/><use href="#ms" x="1863.9" y="399.9"/><use href="#ms" x="1870.3" y="402.5"/><use href="#ms" x="1876.8" y="382.2"/><use href="#ms" x="1883.2" y="377.8"/><use href="#ms" x="1889.7" y="384.3"/><use href="#ms" x="1896.1" y="389.1"/><use href="#ms" x="1902.5" y="403.1"/><use href="#ms" x="1909" y="415.1"/><use href="#ms" x="1915.4" y="389.7"/><use href="#ms" x="1921.9" y="367.7"/><use href="#ms" x="1928.3" y="361.4"/><use href="#ms" x="1934.8" y="355.7"/><use href="#ms" x="1941.2" y="360.7"/><use href="#ms" x="1947.7" y="360.7"/><use href="#ms" x="1954.1" y="355.6"/><use href="#ms" x="1960.6" y="350.7"/><use href="#ms" x="1967" y="346.9"/><use href="#ms" x="1973.5" y="351.8"/><use href="#ms" x="1979.9" y="342.3"/><use href="#ms" x="1986.3" y="358"/><use href="#ms" x="1992.8" y="353.1"/><use href="#ms" x="1999.2" y="346.1"/><use href="#ms" x="2005.7" y="327.9"/><use href="#ms" x="2012.1" y="327.3"/><use href="#ms" x="2018.6" y="324.7"/><use href="#ms" x="2025" y="324.5"/><use href="#ms" x="2031.5" y="324.7"/><use href="#ms" x="2037.9" y="327.3"/><use href="#ms" x="2044.4" y="331.1"/><use href="#ms" x="2050.8" y="334.1"/><use href="#ms" x="2057.3" y="336.7"/><use href="#ms" x="2063.7" y="341.2"/><use href="#ms" x="2070.1" y="348.8"/><use href="#ms" x="2076.6" y="353.7"/><use href="#ms" x="2083" y="355.1"/><use href="#ms" x="2089.5" y="356.9"/><use href="#ms" x="2095.9" y="354.6"/><use href="#ms" x="2102.4" y="368.9"/><use href="#ms" x="2108.9" y="386.6"/><use href="#ms" x="2115.3" y="398.7"/><use href="#ms" x="2121.7" y="401.5"/><use href="#ms" x="2128.2" y="412.5"/><use href="#ms" x="2134.6" y="431.5"/><use href="#ms" x="2141.1" y="468.2"/><use href="#ms" x="2147.5" y="510.2"/><use href="#ms" x="2153.9" y="549.4"/><use href="#ms" x="2160.4" y="588.4"/><use href="#ms" x="2166.8" y="605.2"/><use href="#ms" x="2173.3" y="605.2"/><use href="#ms" x="2179.7" y="588.4"/><use href="#ms" x="2186.2" y="441.9"/><use href="#ms" x="2192.7" y="397.6"/><use href="#ms" x="2199.1" y="540.5"/><use href="#ms" x="2205.5" y="602"/><use href="#ms" x="2212" y="598.9"/><use href="#ms" x="2218.4" y="561.4"/><use href="#ms" x="2224.9" y="542"/><use href="#ms" x="2231.3" y="520"/><use href="#ms" x="2237.8" y="521.7"/><use href="#ms" x="2244.2" y="510.8"/><use href="#ms" x="2250.6" y="526.7"/><use href="#ms" x="2257.1" y="542.6"/><use href="#ms" x="2263.5" y="543.1"/><use href="#ms" x="2270" y="575.2"/><use href="#ms" x="2276.5" y="580.1"/><use href="#ms" x="2282.9" y="578"/><use href="#ms" x="2289.3" y="581.2"/><use href="#ms" x="2295.8" y="597.6"/><use href="#ms" x="2302.2" y="615.6"/><use href="#ms" x="2308.7" y="615.6"/><use href="#ms" x="2315.1" y="615.6"/><use href="#ms" x="2321.6" y="615.6"/><use href="#ms" x="2328" y="615.6"/><use href="#ms" x="2334.4" y="615.6"/><use href="#ms" x="2340.9" y="615.6"/><use href="#ms" x="2347.3" y="615.6"/><use href="#ms" x="2353.8" y="615.6"/><use href="#ms" x="2360.3" y="615.6"/><use href="#ms" x="2366.7" y="612.4"/><use href="#ms" x="2373.1" y="529.6"/><use href="#ms" x="2379.6" y="499.8"/><use href="#ms" x="2386" y="523.8"/><use href="#ms" x="2392.5" y="525.9"/>
<polyline points="1398.4,592.5 1405.1,592.5 1411.8,592.4 1418.5,592.4 1425.1,592.4 1431.8,592.4 1438.5,592.3 1445.2,592.3 1451.9,592.3 1458.6,592.3 1465.3,592.3 1471.9,592.2 1478.6,592.2 1485.3,592.2 1492,592.2 1498.7,592.1 1505.4,592.1 1512.1,592.1 1518.7,592 1525.4,592 1532.1,592 1538.8,592 1545.5,591.9 1552.2,591.9 1558.8,591.9 1565.5,591.8 1572.2,591.8 1578.9,591.7 1585.6,591.7 1592.3,591.6 1599,591.6 1605.6,591.5 1612.3,591.4 1619,591.3 1625.7,591.2 1632.4,591 1639.1,590.8 1645.8,589.6 1652.4,590.5 1659.1,587.4 1665.8,588.3 1672.5,584.7 1679.2,588.3 1685.9,585.2 1692.6,587.8 1699.2,587.1 1705.9,586.7 1712.6,587 1719.3,581.6 1726,587.7 1732.7,582.5 1739.4,585.7 1746,584.8 1752.7,579.2 1759.4,587.8 1766.1,579.8 1772.8,582.9 1779.5,585.1 1786.1,572.4 1792.8,586 1799.5,584.5 1806.2,571.1 1812.9,585.1 1819.6,577 1826.3,568.9 1832.9,583.1 1839.6,572.3 1846.3,562.3 1853,576.6 1859.7,581 1866.4,563.4 1873.1,567.6 1879.7,578.6 1886.4,570.2 1893.1,556.3 1899.8,562 1906.5,573.5 1913.2,575.1 1919.9,562.8 1926.5,547.1 1933.2,552.9 1939.9,564.7 1946.6,571.4 1953.3,571.3 1960,567.9 1966.7,560.5 1973.3,553 1980,546.1 1986.7,542.7 1993.4,541.1 2000.1,543.1 2006.8,547.5 2013.5,553.9 2020.1,558.6 2026.8,559.1 2033.5,551.3 2040.2,526.9 2046.9,538.2 2053.6,554.3 2060.2,530.6 2066.9,541 2073.6,537.8 2080.3,541 2087,519.1 2093.7,530.2 2100.4,539.6 2107,536.7 2113.7,524.7 2120.4,519.5 2127.1,516.7 2133.8,515.4 2140.5,521.9 2147.2,515 2153.8,514.5 2160.5,512.7 2167.2,509.5 2173.9,504.4 2180.6,496.4 2187.3,550 2194,572.9 2200.6,549.3 2207.3,536.7 2214,532.2 2220.7,530.2 2227.4,529.2 2234.1,528.7 2240.8,528.4 2247.4,528.2 2254.1,528.1 2260.8,528 2267.5,527.9 2274.2,527.9 2280.9,527.8 2287.5,527.7 2294.2,527.7 2300.9,527.6 2307.6,527.6 2314.3,527.5 2321,527.5 2327.7,527.8 2334.3,528.2 2341,528.8 2347.7,531.2 2354.4,535.8 2361.1,546 2367.8,563.6 2374.5,579.2 2381.1,583.4 2387.8,585.2 2394.5,586.3 2401.2,586.9" fill="none" stroke="#ff0000" stroke-width="7.6" stroke-linejoin="round" stroke-linecap="butt"/>
</g>
<path d="M1398.4 592.5v18M1565.5 592.5v18M1732.7 592.5v18M1899.8 592.5v18M2066.9 592.5v18M2234.1 592.5v18M2401.2 592.5v18M1398.4 592.5h-18M1398.4 459.1h-18M1398.4 325.8h-18M1398.4 192.5h-18M1398.4 59.1h-18" stroke="#000" stroke-width="4.2" fill="none"/>
<rect x="1398.4" y="59.1" width="1002.8" height="533.4" fill="none" stroke="#000" stroke-width="4.2" stroke-linejoin="miter"/>
<text x="1362.8" y="612.2" text-anchor="end" class="t">0</text>
<text x="1362.8" y="478.8" text-anchor="end" class="t">2</text>
<text x="1362.8" y="345.5" text-anchor="end" class="t">4</text>
<text x="1362.8" y="212.2" text-anchor="end" class="t">6</text>
<text x="1362.8" y="78.8" text-anchor="end" class="t">8</text>
<rect x="1437" y="76.2" width="343.7" height="80.9" rx="12.5" ry="12.5" fill="#fff" stroke="#000" stroke-width="4.8"/>
<text x="1452.7" y="130.4" class="t">B)</text>
<text transform="translate(1521.6,130.4) scale(1.163,1)" style="font-family:'Liberation Serif','DejaVu Serif',serif;font-style:italic;font-size:52.9px">T</text>
<text transform="translate(1554.7,139) scale(1.055,1)" style="font-family:'Liberation Serif','DejaVu Serif',serif;font-style:italic;font-size:32.1px">c</text>
<text x="1589" y="130.4" class="t" xml:space="preserve">= 52 K</text>
</g>
<g id="panelC">
<clipPath id="clipC"><rect x="186" y="645.6" width="1002.7" height="533.5"/></clipPath>
<path d="M353.1 645.6V1179.1M520.2 645.6V1179.1M687.4 645.6V1179.1M854.5 645.6V1179.1M1021.6 645.6V1179.1M186 1045.7H1188.7M186 912.3H1188.7M186 779H1188.7" stroke="#b0b0b0" stroke-width="4" fill="none"/>
<g clip-path="url(#clipC)">
<polyline points="187.3,1163.2 193.8,1163.2 200.2,1168.4 206.7,1179.1 213.1,1182.6 219.6,1182.6 226,1179.1 232.5,1174.3 238.9,1166.4 245.4,1165.3 251.8,1161.2 258.2,1157 264.7,1165.6 271.1,1171.6 277.6,1177.4 284,1177.4 290.5,1178.4 296.9,1178.4 303.3,1175.2 309.8,1178.4 316.3,1183.7 322.7,1186.2 329.2,1184.7 335.6,1182.5 342,1180.6 348.5,1179.5 354.9,1178.4 361.4,1176.4 367.8,1173.2 374.3,1169.5 380.7,1166.9 387.1,1165.3 393.6,1159.1 400,1162.7 406.5,1161.7 412.9,1163.2 419.4,1172.2 425.8,1174.7 432.3,1176.4 438.7,1175.2 445.2,1175.2 451.6,1175.2 458.1,1175.2 464.5,1175.2 470.9,1175.2 477.4,1175.2 483.8,1170 490.3,1163.6 496.7,1163.6 503.2,1165.2 509.6,1171.4 516.1,1175.2 522.5,1175.2 529,1175.2 535.4,1175.2 541.9,1175.2 548.3,1175.2 554.7,1175.2 561.2,1175.2 567.6,1175.2 574.1,1177.2 580.5,1180.4 587,1183.5 593.4,1186 599.8,1183.5 606.3,1183.5 612.7,1185 619.2,1183.5 625.7,1181.4 632.1,1180.4 638.5,1180.4 645,1180.4 651.4,1180.4 657.9,1179.8 664.3,1180.4 670.8,1180.4 677.2,1179.3 683.6,1176.6 690.1,1166 696.5,1163.6 703,1172.6 709.4,1169.3 715.9,1161 722.3,1172.6 728.8,1169.9 735.2,1172.6 741.7,1174.5 748.1,1165.4 754.6,1162.8 761,1169.4 767.5,1172.6 773.9,1167.4 780.3,1177.9 786.8,1173.2 793.2,1166.2 799.7,1157.7 806.1,1151.1 812.6,1149.8 819,1155.6 825.5,1154.4 831.9,1157 838.4,1149.8 844.8,1158.9 851.3,1166.2 857.7,1157.6 864.1,1164.1 870.6,1153 877,1134.8 883.5,1139.4 889.9,1153 896.4,1159.6 902.8,1152.4 909.2,1154.3 915.7,1166 922.1,1153.2 928.6,1145.8 935.1,1149.8 941.5,1145.9 947.9,1151.6 954.4,1151.6 960.8,1150.6 967.3,1162.6 973.7,1172.9 980.2,1175.8 986.6,1172.9 993,1141.4 999.5,1145.4 1005.9,1122.8 1012.4,1112.7 1018.8,1129.1 1025.3,1140 1031.7,1157.1 1038.2,1171.7 1044.6,1177.2 1051.1,1158 1057.5,1098.3 1064,1088.7 1070.4,1150.3 1076.8,1161.2 1083.3,1178.6 1089.7,1177.2 1096.2,1161.2 1102.6,1153 1109.1,1157.1 1115.5,1148.2 1122,1161.2 1128.4,1166.8 1134.9,1166 1141.3,1147.5 1147.8,1170.8 1154.2,1178.6 1160.6,1181.3 1167.1,1182.7 1173.5,1182.7 1180,1182.7" fill="none" stroke="#1f77b4" stroke-width="7.6" stroke-linejoin="round" stroke-linecap="butt"/>
<use href="#mt" x="187.3" y="1163.2"/><use href="#mt" x="193.8" y="1163.2"/><use href="#mt" x="200.2" y="1168.4"/><use href="#mt" x="206.7" y="1179.1"/><use href="#mt" x="213.1" y="1182.6"/><use href="#mt" x="219.6" y="1182.6"/><use href="#mt" x="226" y="1179.1"/><use href="#mt" x="232.5" y="1174.3"/><use href="#mt" x="238.9" y="1166.4"/><use href="#mt" x="245.4" y="1165.3"/><use href="#mt" x="251.8" y="1161.2"/><use href="#mt" x="258.2" y="1157"/><use href="#mt" x="264.7" y="1165.6"/><use href="#mt" x="271.1" y="1171.6"/><use href="#mt" x="277.6" y="1177.4"/><use href="#mt" x="284" y="1177.4"/><use href="#mt" x="290.5" y="1178.4"/><use href="#mt" x="296.9" y="1178.4"/><use href="#mt" x="303.3" y="1175.2"/><use href="#mt" x="309.8" y="1178.4"/><use href="#mt" x="316.3" y="1183.7"/><use href="#mt" x="322.7" y="1186.2"/><use href="#mt" x="329.2" y="1184.7"/><use href="#mt" x="335.6" y="1182.5"/><use href="#mt" x="342" y="1180.6"/><use href="#mt" x="348.5" y="1179.5"/><use href="#mt" x="354.9" y="1178.4"/><use href="#mt" x="361.4" y="1176.4"/><use href="#mt" x="367.8" y="1173.2"/><use href="#mt" x="374.3" y="1169.5"/><use href="#mt" x="380.7" y="1166.9"/><use href="#mt" x="387.1" y="1165.3"/><use href="#mt" x="393.6" y="1159.1"/><use href="#mt" x="400" y="1162.7"/><use href="#mt" x="406.5" y="1161.7"/><use href="#mt" x="412.9" y="1163.2"/><use href="#mt" x="419.4" y="1172.2"/><use href="#mt" x="425.8" y="1174.7"/><use href="#mt" x="432.3" y="1176.4"/><use href="#mt" x="438.7" y="1175.2"/><use href="#mt" x="445.2" y="1175.2"/><use href="#mt" x="451.6" y="1175.2"/><use href="#mt" x="458.1" y="1175.2"/><use href="#mt" x="464.5" y="1175.2"/><use href="#mt" x="470.9" y="1175.2"/><use href="#mt" x="477.4" y="1175.2"/><use href="#mt" x="483.8" y="1170"/><use href="#mt" x="490.3" y="1163.6"/><use href="#mt" x="496.7" y="1163.6"/><use href="#mt" x="503.2" y="1165.2"/><use href="#mt" x="509.6" y="1171.4"/><use href="#mt" x="516.1" y="1175.2"/><use href="#mt" x="522.5" y="1175.2"/><use href="#mt" x="529" y="1175.2"/><use href="#mt" x="535.4" y="1175.2"/><use href="#mt" x="541.9" y="1175.2"/><use href="#mt" x="548.3" y="1175.2"/><use href="#mt" x="554.7" y="1175.2"/><use href="#mt" x="561.2" y="1175.2"/><use href="#mt" x="567.6" y="1175.2"/><use href="#mt" x="574.1" y="1177.2"/><use href="#mt" x="580.5" y="1180.4"/><use href="#mt" x="587" y="1183.5"/><use href="#mt" x="593.4" y="1186"/><use href="#mt" x="599.8" y="1183.5"/><use href="#mt" x="606.3" y="1183.5"/><use href="#mt" x="612.7" y="1185"/><use href="#mt" x="619.2" y="1183.5"/><use href="#mt" x="625.7" y="1181.4"/><use href="#mt" x="632.1" y="1180.4"/><use href="#mt" x="638.5" y="1180.4"/><use href="#mt" x="645" y="1180.4"/><use href="#mt" x="651.4" y="1180.4"/><use href="#mt" x="657.9" y="1179.8"/><use href="#mt" x="664.3" y="1180.4"/><use href="#mt" x="670.8" y="1180.4"/><use href="#mt" x="677.2" y="1179.3"/><use href="#mt" x="683.6" y="1176.6"/><use href="#mt" x="690.1" y="1166"/><use href="#mt" x="696.5" y="1163.6"/><use href="#mt" x="703" y="1172.6"/><use href="#mt" x="709.4" y="1169.3"/><use href="#mt" x="715.9" y="1161"/><use href="#mt" x="722.3" y="1172.6"/><use href="#mt" x="728.8" y="1169.9"/><use href="#mt" x="735.2" y="1172.6"/><use href="#mt" x="741.7" y="1174.5"/><use href="#mt" x="748.1" y="1165.4"/><use href="#mt" x="754.6" y="1162.8"/><use href="#mt" x="761" y="1169.4"/><use href="#mt" x="767.5" y="1172.6"/><use href="#mt" x="773.9" y="1167.4"/><use href="#mt" x="780.3" y="1177.9"/><use href="#mt" x="786.8" y="1173.2"/><use href="#mt" x="793.2" y="1166.2"/><use href="#mt" x="799.7" y="1157.7"/><use href="#mt" x="806.1" y="1151.1"/><use href="#mt" x="812.6" y="1149.8"/><use href="#mt" x="819" y="1155.6"/><use href="#mt" x="825.5" y="1154.4"/><use href="#mt" x="831.9" y="1157"/><use href="#mt" x="838.4" y="1149.8"/><use href="#mt" x="844.8" y="1158.9"/><use href="#mt" x="851.3" y="1166.2"/><use href="#mt" x="857.7" y="1157.6"/><use href="#mt" x="864.1" y="1164.1"/><use href="#mt" x="870.6" y="1153"/><use href="#mt" x="877" y="1134.8"/><use href="#mt" x="883.5" y="1139.4"/><use href="#mt" x="889.9" y="1153"/><use href="#mt" x="896.4" y="1159.6"/><use href="#mt" x="902.8" y="1152.4"/><use href="#mt" x="909.2" y="1154.3"/><use href="#mt" x="915.7" y="1166"/><use href="#mt" x="922.1" y="1153.2"/><use href="#mt" x="928.6" y="1145.8"/><use href="#mt" x="935.1" y="1149.8"/><use href="#mt" x="941.5" y="1145.9"/><use href="#mt" x="947.9" y="1151.6"/><use href="#mt" x="954.4" y="1151.6"/><use href="#mt" x="960.8" y="1150.6"/><use href="#mt" x="967.3" y="1162.6"/><use href="#mt" x="973.7" y="1172.9"/><use href="#mt" x="980.2" y="1175.8"/><use href="#mt" x="986.6" y="1172.9"/><use href="#mt" x="993" y="1141.4"/><use href="#mt" x="999.5" y="1145.4"/><use href="#mt" x="1005.9" y="1122.8"/><use href="#mt" x="1012.4" y="1112.7"/><use href="#mt" x="1018.8" y="1129.1"/><use href="#mt" x="1025.3" y="1140"/><use href="#mt" x="1031.7" y="1157.1"/><use href="#mt" x="1038.2" y="1171.7"/><use href="#mt" x="1044.6" y="1177.2"/><use href="#mt" x="1051.1" y="1158"/><use href="#mt" x="1057.5" y="1098.3"/><use href="#mt" x="1064" y="1088.7"/><use href="#mt" x="1070.4" y="1150.3"/><use href="#mt" x="1076.8" y="1161.2"/><use href="#mt" x="1083.3" y="1178.6"/><use href="#mt" x="1089.7" y="1177.2"/><use href="#mt" x="1096.2" y="1161.2"/><use href="#mt" x="1102.6" y="1153"/><use href="#mt" x="1109.1" y="1157.1"/><use href="#mt" x="1115.5" y="1148.2"/><use href="#mt" x="1122" y="1161.2"/><use href="#mt" x="1128.4" y="1166.8"/><use href="#mt" x="1134.9" y="1166"/><use href="#mt" x="1141.3" y="1147.5"/><use href="#mt" x="1147.8" y="1170.8"/><use href="#mt" x="1154.2" y="1178.6"/><use href="#mt" x="1160.6" y="1181.3"/><use href="#mt" x="1167.1" y="1182.7"/><use href="#mt" x="1173.5" y="1182.7"/><use href="#mt" x="1180" y="1182.7"/>
<polyline points="187.3,1181.6 193.8,1180.6 200.2,1179.3 206.7,1174.1 213.1,1180.4 219.6,1181.1 226,1182.1 232.5,1183 238.9,1183 245.4,1183 251.8,1182.4 258.2,1179.3 264.7,1179.3 271.1,1177.4 277.6,1176.2 284,1171.5 290.5,1172.5 296.9,1176.2 303.3,1180.4 309.8,1183 316.3,1184.7 322.7,1184.7 329.2,1183.7 335.6,1181.9 342,1180.6 348.5,1175.6 354.9,1174.8 361.4,1174.6 367.8,1174.6 374.3,1169.4 380.7,1169.6 387.1,1175.8 393.6,1175.8 400,1173.8 406.5,1167.8 412.9,1166.2 419.4,1174.8 425.8,1178.4 432.3,1175.8 438.7,1170.4 445.2,1161.4 451.6,1154.6 458.1,1155.6 464.5,1162.1 470.9,1160 477.4,1166.3 483.8,1175.2 490.3,1176.7 496.7,1176.7 503.2,1175.4 509.6,1170.8 516.1,1169.2 522.5,1169.2 529,1159.8 535.4,1153.6 541.9,1153.6 548.3,1155.6 554.7,1155.4 561.2,1155.8 567.6,1155.8 574.1,1155.6 580.5,1152 587,1152 593.4,1152.2 599.8,1151.7 606.3,1148.4 612.7,1153 619.2,1154.6 625.7,1154.6 632.1,1154.3 638.5,1140 645,1132.7 651.4,1140.6 657.9,1141.8 664.3,1139.7 670.8,1135.3 677.2,1135.3 683.6,1135.3 690.1,1135.4 696.5,1137.4 703,1137 709.4,1137 715.9,1137 722.3,1132.4 728.8,1131.7 735.2,1121.7 741.7,1124.5 748.1,1128.6 754.6,1127.2 761,1124.5 767.5,1108.1 773.9,1118 780.3,1123.3 786.8,1118.8 793.2,1116.7 799.7,1112.8 806.1,1108.1 812.6,1100.9 819,1094.5 825.5,1090.5 831.9,1089.4 838.4,1087.3 844.8,1087.3 851.3,1082.7 857.7,1093.3 864.1,1102.5 870.6,1099.8 877,1093.3 883.5,1084.9 889.9,1080.3 896.4,1070.4 902.8,1064.5 909.2,1061.3 915.7,1074.4 922.1,1093.4 928.6,1090.7 935.1,1089.4 941.5,1087.9 947.9,1083.8 954.4,1069.3 960.8,1068.7 967.3,1084.5 973.7,1127 980.2,1155.9 986.6,1096.1 993,1073.5 999.5,1085.1 1005.9,1101.6 1012.4,1110.5 1018.8,1093.4 1025.3,1074.2 1031.7,1086.5 1038.2,1138.8 1044.6,1179.9 1051.1,1179.9 1057.5,1103 1064,1025.4 1070.4,1025.4 1076.8,1034.3 1083.3,1053.6 1089.7,1079.3 1096.2,1054.3 1102.6,1054.3 1109.1,1079 1115.5,1052.9 1122,1029.5 1128.4,1054.3 1134.9,1081 1141.3,1064.5 1147.8,1078.3 1154.2,1117.4 1160.6,1164.8 1167.1,1179.9 1173.5,1182.7 1180,1182.7" fill="none" stroke="#ff7f0e" stroke-width="7.6" stroke-linejoin="round" stroke-linecap="butt"/>
<use href="#ms" x="187.3" y="1181.6"/><use href="#ms" x="193.8" y="1180.6"/><use href="#ms" x="200.2" y="1179.3"/><use href="#ms" x="206.7" y="1174.1"/><use href="#ms" x="213.1" y="1180.4"/><use href="#ms" x="219.6" y="1181.1"/><use href="#ms" x="226" y="1182.1"/><use href="#ms" x="232.5" y="1183"/><use href="#ms" x="238.9" y="1183"/><use href="#ms" x="245.4" y="1183"/><use href="#ms" x="251.8" y="1182.4"/><use href="#ms" x="258.2" y="1179.3"/><use href="#ms" x="264.7" y="1179.3"/><use href="#ms" x="271.1" y="1177.4"/><use href="#ms" x="277.6" y="1176.2"/><use href="#ms" x="284" y="1171.5"/><use href="#ms" x="290.5" y="1172.5"/><use href="#ms" x="296.9" y="1176.2"/><use href="#ms" x="303.3" y="1180.4"/><use href="#ms" x="309.8" y="1183"/><use href="#ms" x="316.3" y="1184.7"/><use href="#ms" x="322.7" y="1184.7"/><use href="#ms" x="329.2" y="1183.7"/><use href="#ms" x="335.6" y="1181.9"/><use href="#ms" x="342" y="1180.6"/><use href="#ms" x="348.5" y="1175.6"/><use href="#ms" x="354.9" y="1174.8"/><use href="#ms" x="361.4" y="1174.6"/><use href="#ms" x="367.8" y="1174.6"/><use href="#ms" x="374.3" y="1169.4"/><use href="#ms" x="380.7" y="1169.6"/><use href="#ms" x="387.1" y="1175.8"/><use href="#ms" x="393.6" y="1175.8"/><use href="#ms" x="400" y="1173.8"/><use href="#ms" x="406.5" y="1167.8"/><use href="#ms" x="412.9" y="1166.2"/><use href="#ms" x="419.4" y="1174.8"/><use href="#ms" x="425.8" y="1178.4"/><use href="#ms" x="432.3" y="1175.8"/><use href="#ms" x="438.7" y="1170.4"/><use href="#ms" x="445.2" y="1161.4"/><use href="#ms" x="451.6" y="1154.6"/><use href="#ms" x="458.1" y="1155.6"/><use href="#ms" x="464.5" y="1162.1"/><use href="#ms" x="470.9" y="1160"/><use href="#ms" x="477.4" y="1166.3"/><use href="#ms" x="483.8" y="1175.2"/><use href="#ms" x="490.3" y="1176.7"/><use href="#ms" x="496.7" y="1176.7"/><use href="#ms" x="503.2" y="1175.4"/><use href="#ms" x="509.6" y="1170.8"/><use href="#ms" x="516.1" y="1169.2"/><use href="#ms" x="522.5" y="1169.2"/><use href="#ms" x="529" y="1159.8"/><use href="#ms" x="535.4" y="1153.6"/><use href="#ms" x="541.9" y="1153.6"/><use href="#ms" x="548.3" y="1155.6"/><use href="#ms" x="554.7" y="1155.4"/><use href="#ms" x="561.2" y="1155.8"/><use href="#ms" x="567.6" y="1155.8"/><use href="#ms" x="574.1" y="1155.6"/><use href="#ms" x="580.5" y="1152"/><use href="#ms" x="587" y="1152"/><use href="#ms" x="593.4" y="1152.2"/><use href="#ms" x="599.8" y="1151.7"/><use href="#ms" x="606.3" y="1148.4"/><use href="#ms" x="612.7" y="1153"/><use href="#ms" x="619.2" y="1154.6"/><use href="#ms" x="625.7" y="1154.6"/><use href="#ms" x="632.1" y="1154.3"/><use href="#ms" x="638.5" y="1140"/><use href="#ms" x="645" y="1132.7"/><use href="#ms" x="651.4" y="1140.6"/><use href="#ms" x="657.9" y="1141.8"/><use href="#ms" x="664.3" y="1139.7"/><use href="#ms" x="670.8" y="1135.3"/><use href="#ms" x="677.2" y="1135.3"/><use href="#ms" x="683.6" y="1135.3"/><use href="#ms" x="690.1" y="1135.4"/><use href="#ms" x="696.5" y="1137.4"/><use href="#ms" x="703" y="1137"/><use href="#ms" x="709.4" y="1137"/><use href="#ms" x="715.9" y="1137"/><use href="#ms" x="722.3" y="1132.4"/><use href="#ms" x="728.8" y="1131.7"/><use href="#ms" x="735.2" y="1121.7"/><use href="#ms" x="741.7" y="1124.5"/><use href="#ms" x="748.1" y="1128.6"/><use href="#ms" x="754.6" y="1127.2"/><use href="#ms" x="761" y="1124.5"/><use href="#ms" x="767.5" y="1108.1"/><use href="#ms" x="773.9" y="1118"/><use href="#ms" x="780.3" y="1123.3"/><use href="#ms" x="786.8" y="1118.8"/><use href="#ms" x="793.2" y="1116.7"/><use href="#ms" x="799.7" y="1112.8"/><use href="#ms" x="806.1" y="1108.1"/><use href="#ms" x="812.6" y="1100.9"/><use href="#ms" x="819" y="1094.5"/><use href="#ms" x="825.5" y="1090.5"/><use href="#ms" x="831.9" y="1089.4"/><use href="#ms" x="838.4" y="1087.3"/><use href="#ms" x="844.8" y="1087.3"/><use href="#ms" x="851.3" y="1082.7"/><use href="#ms" x="857.7" y="1093.3"/><use href="#ms" x="864.1" y="1102.5"/><use href="#ms" x="870.6" y="1099.8"/><use href="#ms" x="877" y="1093.3"/><use href="#ms" x="883.5" y="1084.9"/><use href="#ms" x="889.9" y="1080.3"/><use href="#ms" x="896.4" y="1070.4"/><use href="#ms" x="902.8" y="1064.5"/><use href="#ms" x="909.2" y="1061.3"/><use href="#ms" x="915.7" y="1074.4"/><use href="#ms" x="922.1" y="1093.4"/><use href="#ms" x="928.6" y="1090.7"/><use href="#ms" x="935.1" y="1089.4"/><use href="#ms" x="941.5" y="1087.9"/><use href="#ms" x="947.9" y="1083.8"/><use href="#ms" x="954.4" y="1069.3"/><use href="#ms" x="960.8" y="1068.7"/><use href="#ms" x="967.3" y="1084.5"/><use href="#ms" x="973.7" y="1127"/><use href="#ms" x="980.2" y="1155.9"/><use href="#ms" x="986.6" y="1096.1"/><use href="#ms" x="993" y="1073.5"/><use href="#ms" x="999.5" y="1085.1"/><use href="#ms" x="1005.9" y="1101.6"/><use href="#ms" x="1012.4" y="1110.5"/><use href="#ms" x="1018.8" y="1093.4"/><use href="#ms" x="1025.3" y="1074.2"/><use href="#ms" x="1031.7" y="1086.5"/><use href="#ms" x="1038.2" y="1138.8"/><use href="#ms" x="1044.6" y="1179.9"/><use href="#ms" x="1051.1" y="1179.9"/><use href="#ms" x="1057.5" y="1103"/><use href="#ms" x="1064" y="1025.4"/><use href="#ms" x="1070.4" y="1025.4"/><use href="#ms" x="1076.8" y="1034.3"/><use href="#ms" x="1083.3" y="1053.6"/><use href="#ms" x="1089.7" y="1079.3"/><use href="#ms" x="1096.2" y="1054.3"/><use href="#ms" x="1102.6" y="1054.3"/><use href="#ms" x="1109.1" y="1079"/><use href="#ms" x="1115.5" y="1052.9"/><use href="#ms" x="1122" y="1029.5"/><use href="#ms" x="1128.4" y="1054.3"/><use href="#ms" x="1134.9" y="1081"/><use href="#ms" x="1141.3" y="1064.5"/><use href="#ms" x="1147.8" y="1078.3"/><use href="#ms" x="1154.2" y="1117.4"/><use href="#ms" x="1160.6" y="1164.8"/><use href="#ms" x="1167.1" y="1179.9"/><use href="#ms" x="1173.5" y="1182.7"/><use href="#ms" x="1180" y="1182.7"/>
<polyline points="186,1179.1 192.7,1179.1 199.4,1179.1 206.1,1179.1 212.7,1179 219.4,1179 226.1,1179 232.8,1179 239.5,1179 246.2,1179 252.8,1179 259.5,1179 266.2,1178.9 272.9,1178.9 279.6,1178.9 286.3,1178.9 293,1178.9 299.6,1178.9 306.3,1178.9 313,1178.8 319.7,1178.8 326.4,1178.8 333.1,1178.8 339.7,1178.8 346.4,1178.8 353.1,1178.7 359.8,1178.7 366.5,1178.7 373.2,1178.7 379.9,1178.6 386.5,1178.6 393.2,1178.6 399.9,1178.5 406.6,1178.5 413.3,1178.4 420,1178.3 426.6,1178.2 433.3,1177.6 440,1178 446.7,1176.4 453.4,1176.9 460.1,1175 466.8,1176.9 473.4,1175.3 480.1,1176.6 486.8,1176.3 493.5,1176 500.2,1176.1 506.9,1173.1 513.5,1176.4 520.2,1173.4 526.9,1175.2 533.6,1174.5 540.3,1171.1 547,1176.3 553.7,1171.5 560.3,1173.3 567,1174.6 573.7,1166.8 580.4,1175.1 587.1,1174.2 593.8,1165.9 600.4,1174.5 607.1,1169.5 613.8,1164.4 620.5,1173.3 627.2,1166.4 633.9,1160.1 640.6,1169.1 647.2,1171.9 653.9,1160.9 660.6,1163.6 667.3,1170.5 674,1165.3 680.7,1156.8 687.4,1160.4 694,1167.5 700.7,1168.4 707.4,1160.7 714.1,1150.9 720.8,1154.4 727.5,1161.7 734.1,1165.9 740.8,1165.8 747.5,1163.7 754.2,1158.9 760.9,1154.2 767.6,1149.8 774.3,1147.6 780.9,1146.5 787.6,1147.6 794.3,1150.2 801,1154.1 807.7,1157 814.4,1157.1 821,1151.8 827.7,1135.2 834.4,1142.6 841.1,1153.3 847.8,1137 854.5,1143.9 861.2,1141.4 867.8,1143.3 874.5,1127.9 881.2,1135.4 887.9,1141.7 894.6,1139.4 901.3,1130.6 907.9,1126.6 914.6,1124.2 921.3,1122.9 928,1127.3 934.7,1121.9 941.4,1121.2 948.1,1119.5 954.7,1116.8 961.4,1112.5 968.1,1106.4 974.8,1151.9 981.5,1164.3 988.2,1145.8 994.8,1135.8 1001.5,1131.7 1008.2,1130 1014.9,1129 1021.6,1128.2 1028.3,1127.6 1035,1127 1041.6,1126.6 1048.3,1126.2 1055,1125.8 1061.7,1125.5 1068.4,1125.2 1075.1,1125 1081.7,1124.8 1088.4,1124.7 1095.1,1124.5 1101.8,1124.4 1108.5,1124.4 1115.2,1124.5 1121.9,1124.9 1128.5,1125.6 1135.2,1127.6 1141.9,1132.5 1148.6,1144.5 1155.3,1160.9 1162,1171.7 1168.6,1175 1175.3,1176.1 1182,1176.9 1188.7,1177.1" fill="none" stroke="#00ffff" stroke-width="7.6" stroke-linejoin="round" stroke-linecap="butt"/>
<polyline points="186,1179.1 192.7,1179.1 199.4,1179 206.1,1179 212.7,1179 219.4,1178.9 226.1,1178.9 232.8,1178.9 239.5,1178.9 246.2,1178.8 252.8,1178.8 259.5,1178.8 266.2,1178.8 272.9,1178.7 279.6,1178.7 286.3,1178.7 293,1178.6 299.6,1178.6 306.3,1178.6 313,1178.5 319.7,1178.5 326.4,1178.5 333.1,1178.4 339.7,1178.4 346.4,1178.3 353.1,1178.3 359.8,1178.3 366.5,1178.2 373.2,1178.1 379.9,1178.1 386.5,1178 393.2,1177.9 399.9,1177.8 406.6,1177.7 413.3,1177.6 420,1177.4 426.6,1177.1 433.3,1175.8 440,1176.8 446.7,1173.2 453.4,1174.2 460.1,1170.1 466.8,1174.2 473.4,1170.6 480.1,1173.6 486.8,1172.8 493.5,1172.3 500.2,1172.5 506.9,1165.8 513.5,1173.1 520.2,1166.4 526.9,1170.4 533.6,1169 540.3,1161.4 547,1172.9 553.7,1162.1 560.3,1166.3 567,1169.2 573.7,1151.9 580.4,1170.2 587.1,1168.2 593.8,1149.8 600.4,1168.9 607.1,1157.7 613.8,1146.4 620.5,1166.1 627.2,1151 633.9,1136.8 640.6,1156.8 647.2,1162.8 653.9,1137.3 660.6,1143.1 667.3,1158.8 674,1146.1 680.7,1125.3 687.4,1133.5 694,1150.6 700.7,1152.9 707.4,1134.2 714.1,1110.2 720.8,1118.7 727.5,1136.5 734.1,1146.8 740.8,1146.6 747.5,1141.4 754.2,1129.8 760.9,1118.2 767.6,1107.5 774.3,1102 780.9,1099.3 787.6,1102 794.3,1108.2 801,1117.7 807.7,1124.9 814.4,1125.2 821,1112 827.7,1071.4 834.4,1089.5 841.1,1115.7 847.8,1075.6 854.5,1092.5 861.2,1086.4 867.8,1091.2 874.5,1053.1 881.2,1071.5 887.9,1087.1 894.6,1081.4 901.3,1059.7 907.9,1049.7 914.6,1043.8 921.3,1040.7 928,1051.5 934.7,1038.1 941.4,1036.4 948.1,1032.1 954.7,1025.3 961.4,1014.6 968.1,998.6 974.8,1085.2 981.5,1140.9 988.2,1096.1 994.8,1071 1001.5,1064.4 1008.2,1060.2 1014.9,1057.1 1021.6,1054.5 1028.3,1052.4 1035,1050.7 1041.6,1049.2 1048.3,1047.9 1055,1046.6 1061.7,1045.2 1068.4,1043.7 1075.1,1042.5 1081.7,1041.5 1088.4,1040.7 1095.1,1040 1101.8,1039.3 1108.5,1038.8 1115.2,1038.6 1121.9,1039.7 1128.5,1041.6 1135.2,1045.5 1141.9,1055.2 1148.6,1081.5 1155.3,1119.9 1162,1153.5 1168.6,1164.9 1175.3,1169.3 1182,1171.7 1188.7,1172.9" fill="none" stroke="#ff0000" stroke-width="7.6" stroke-linejoin="round" stroke-linecap="butt"/>
</g>
<path d="M186 1179.1v18M353.1 1179.1v18M520.2 1179.1v18M687.4 1179.1v18M854.5 1179.1v18M1021.6 1179.1v18M1188.7 1179.1v18M186 1179.1h-18M186 1045.7h-18M186 912.3h-18M186 779h-18M186 645.6h-18" stroke="#000" stroke-width="4.2" fill="none"/>
<rect x="186" y="645.6" width="1002.7" height="533.5" fill="none" stroke="#000" stroke-width="4.2" stroke-linejoin="miter"/>
<text x="150.4" y="1198.8" text-anchor="end" class="t">0</text>
<text x="150.4" y="1065.4" text-anchor="end" class="t">2</text>
<text x="150.4" y="932" text-anchor="end" class="t">4</text>
<text x="150.4" y="798.7" text-anchor="end" class="t">6</text>
<text x="150.4" y="665.3" text-anchor="end" class="t">8</text>
<text x="186" y="1254.9" text-anchor="middle" class="t">150</text>
<text x="353.1" y="1254.9" text-anchor="middle" class="t">200</text>
<text x="520.2" y="1254.9" text-anchor="middle" class="t">250</text>
<text x="687.4" y="1254.9" text-anchor="middle" class="t">300</text>
<text x="854.5" y="1254.9" text-anchor="middle" class="t">350</text>
<text x="1021.6" y="1254.9" text-anchor="middle" class="t">400</text>
<text x="1188.7" y="1254.9" text-anchor="middle" class="t">450</text>
<text transform="translate(578.4,1328.8) scale(1.18,1)" style="font-family:'Liberation Serif','DejaVu Serif',serif;font-style:italic;font-size:46.8px">ν</text>
<text transform="translate(578.6,1309.1) scale(1,0.7)" style="font-family:'Liberation Serif','DejaVu Serif',serif;font-size:49.4px">~</text>
<text x="634.7" y="1329.5" class="t">[cm</text>
<text transform="translate(736.5,1312.5) scale(1.24,1)" style="font-family:'Liberation Serif','DejaVu Serif',serif;font-size:36px">−</text>
<text x="763.7" y="1309.5" style="font-family:'Liberation Serif','DejaVu Serif',serif;font-size:35.3px">1</text>
<text transform="translate(783.9,1334.2) scale(0.535,1)" style="font-family:'Liberation Serif','DejaVu Serif',serif;font-size:61.7px">]</text>
<rect x="221.7" y="674.1" width="377.4" height="80.9" rx="12.5" ry="12.5" fill="#fff" stroke="#000" stroke-width="4.8"/>
<text x="237.4" y="728.3" class="t">C)</text>
<text transform="translate(306.9,728.3) scale(1.163,1)" style="font-family:'Liberation Serif','DejaVu Serif',serif;font-style:italic;font-size:52.9px">T</text>
<text transform="translate(340,736.9) scale(1.055,1)" style="font-family:'Liberation Serif','DejaVu Serif',serif;font-style:italic;font-size:32.1px">c</text>
<text x="374.3" y="728.3" class="t" xml:space="preserve">= 121 K</text>
</g>
<g id="panelD">
<clipPath id="clipD"><rect x="1398.4" y="645.6" width="1002.8" height="533.5"/></clipPath>
<path d="M1565.5 645.6V1179.1M1732.7 645.6V1179.1M1899.8 645.6V1179.1M2066.9 645.6V1179.1M2234.1 645.6V1179.1M1398.4 1045.7H2401.2M1398.4 912.3H2401.2M1398.4 779H2401.2" stroke="#b0b0b0" stroke-width="4" fill="none"/>
<g clip-path="url(#clipD)">
<polyline points="1399.7,1164.3 1406.2,1155.8 1412.6,1169.5 1419.1,1172.6 1425.5,1172.6 1432,1172.6 1438.4,1172.6 1444.9,1172.6 1451.3,1172.6 1457.8,1172.6 1464.2,1172.6 1470.6,1172.6 1477.1,1172.6 1483.5,1172.6 1490,1172.6 1496.4,1170.6 1502.9,1167.3 1509.3,1169.9 1515.8,1169.9 1522.2,1167.8 1528.7,1165.2 1535.1,1164.2 1541.6,1169.5 1548,1170.6 1554.4,1168.5 1560.9,1162.6 1567.3,1161 1573.8,1161.6 1580.2,1169.5 1586.7,1172.6 1593.1,1172.6 1599.6,1172.6 1606,1172.6 1612.5,1172.6 1618.9,1172.6 1625.4,1172.6 1631.8,1172.6 1638.2,1172.6 1644.7,1171.6 1651.1,1170.4 1657.6,1173 1664,1173 1670.5,1173 1676.9,1173 1683.4,1173 1689.8,1173 1696.3,1173 1702.7,1173 1709.2,1173 1715.6,1173 1722.1,1173 1728.5,1173 1734.9,1170 1741.4,1167.8 1747.8,1173 1754.3,1175.2 1760.7,1175.2 1767.2,1175.2 1773.6,1175.2 1780.1,1175.2 1786.5,1175.2 1793,1170 1799.4,1163 1805.9,1170 1812.3,1166.2 1818.7,1175.2 1825.2,1185 1831.6,1168.9 1838.1,1175.2 1844.5,1182.9 1851,1178.3 1857.4,1178.3 1863.9,1180.8 1870.3,1178.3 1876.8,1175.2 1883.2,1170 1889.7,1164.1 1896.1,1168.8 1902.5,1174.4 1909,1173 1915.4,1171.7 1921.9,1160.6 1928.3,1157.8 1934.8,1158.5 1941.2,1162.6 1947.7,1155.1 1954.1,1162 1960.6,1163.3 1967,1169.5 1973.5,1171.6 1979.9,1159.9 1986.3,1151 1992.8,1151.6 1999.2,1153.8 2005.7,1151.6 2012.1,1149.6 2018.6,1151.6 2025,1157.1 2031.5,1158 2037.9,1159.9 2044.4,1165.4 2050.8,1155.2 2057.3,1156.6 2063.7,1155.2 2070.1,1155.2 2076.6,1152.3 2083,1159.2 2089.5,1177.2 2095.9,1178.6 2102.4,1169.5 2108.9,1162.6 2115.3,1140.1 2121.7,1117 2128.2,1124.8 2134.6,1137.9 2141.1,1130.5 2147.5,1114.5 2153.9,1105.3 2160.4,1135.5 2166.8,1166.3 2173.3,1171 2179.7,1173 2186.2,1180 2192.7,1180 2199.1,1171 2205.5,1149.7 2212,1139.3 2218.4,1118.6 2224.9,1140.2 2231.3,1153.9 2237.8,1161 2244.2,1181 2250.6,1190.4 2257.1,1174.7 2263.5,1140.3 2270,1112.1 2276.5,1091.2 2282.9,1102.7 2289.3,1109.4 2295.8,1130.7 2302.2,1130.8 2308.7,1106.8 2315.1,1139.2 2321.6,1159.5 2328,1180 2334.4,1153.2 2340.9,1095.3 2347.3,1119.3 2353.8,1190.4 2360.3,1190.4 2366.7,1175.8 2373.1,1180 2379.6,1181 2386,1181 2392.5,1181" fill="none" stroke="#1f77b4" stroke-width="7.6" stroke-linejoin="round" stroke-linecap="butt"/>
<use href="#mt" x="1399.7" y="1164.3"/><use href="#mt" x="1406.2" y="1155.8"/><use href="#mt" x="1412.6" y="1169.5"/><use href="#mt" x="1419.1" y="1172.6"/><use href="#mt" x="1425.5" y="1172.6"/><use href="#mt" x="1432" y="1172.6"/><use href="#mt" x="1438.4" y="1172.6"/><use href="#mt" x="1444.9" y="1172.6"/><use href="#mt" x="1451.3" y="1172.6"/><use href="#mt" x="1457.8" y="1172.6"/><use href="#mt" x="1464.2" y="1172.6"/><use href="#mt" x="1470.6" y="1172.6"/><use href="#mt" x="1477.1" y="1172.6"/><use href="#mt" x="1483.5" y="1172.6"/><use href="#mt" x="1490" y="1172.6"/><use href="#mt" x="1496.4" y="1170.6"/><use href="#mt" x="1502.9" y="1167.3"/><use href="#mt" x="1509.3" y="1169.9"/><use href="#mt" x="1515.8" y="1169.9"/><use href="#mt" x="1522.2" y="1167.8"/><use href="#mt" x="1528.7" y="1165.2"/><use href="#mt" x="1535.1" y="1164.2"/><use href="#mt" x="1541.6" y="1169.5"/><use href="#mt" x="1548" y="1170.6"/><use href="#mt" x="1554.4" y="1168.5"/><use href="#mt" x="1560.9" y="1162.6"/><use href="#mt" x="1567.3" y="1161"/><use href="#mt" x="1573.8" y="1161.6"/><use href="#mt" x="1580.2" y="1169.5"/><use href="#mt" x="1586.7" y="1172.6"/><use href="#mt" x="1593.1" y="1172.6"/><use href="#mt" x="1599.6" y="1172.6"/><use href="#mt" x="1606" y="1172.6"/><use href="#mt" x="1612.5" y="1172.6"/><use href="#mt" x="1618.9" y="1172.6"/><use href="#mt" x="1625.4" y="1172.6"/><use href="#mt" x="1631.8" y="1172.6"/><use href="#mt" x="1638.2" y="1172.6"/><use href="#mt" x="1644.7" y="1171.6"/><use href="#mt" x="1651.1" y="1170.4"/><use href="#mt" x="1657.6" y="1173"/><use href="#mt" x="1664" y="1173"/><use href="#mt" x="1670.5" y="1173"/><use href="#mt" x="1676.9" y="1173"/><use href="#mt" x="1683.4" y="1173"/><use href="#mt" x="1689.8" y="1173"/><use href="#mt" x="1696.3" y="1173"/><use href="#mt" x="1702.7" y="1173"/><use href="#mt" x="1709.2" y="1173"/><use href="#mt" x="1715.6" y="1173"/><use href="#mt" x="1722.1" y="1173"/><use href="#mt" x="1728.5" y="1173"/><use href="#mt" x="1734.9" y="1170"/><use href="#mt" x="1741.4" y="1167.8"/><use href="#mt" x="1747.8" y="1173"/><use href="#mt" x="1754.3" y="1175.2"/><use href="#mt" x="1760.7" y="1175.2"/><use href="#mt" x="1767.2" y="1175.2"/><use href="#mt" x="1773.6" y="1175.2"/><use href="#mt" x="1780.1" y="1175.2"/><use href="#mt" x="1786.5" y="1175.2"/><use href="#mt" x="1793" y="1170"/><use href="#mt" x="1799.4" y="1163"/><use href="#mt" x="1805.9" y="1170"/><use href="#mt" x="1812.3" y="1166.2"/><use href="#mt" x="1818.7" y="1175.2"/><use href="#mt" x="1825.2" y="1185"/><use href="#mt" x="1831.6" y="1168.9"/><use href="#mt" x="1838.1" y="1175.2"/><use href="#mt" x="1844.5" y="1182.9"/><use href="#mt" x="1851" y="1178.3"/><use href="#mt" x="1857.4" y="1178.3"/><use href="#mt" x="1863.9" y="1180.8"/><use href="#mt" x="1870.3" y="1178.3"/><use href="#mt" x="1876.8" y="1175.2"/><use href="#mt" x="1883.2" y="1170"/><use href="#mt" x="1889.7" y="1164.1"/><use href="#mt" x="1896.1" y="1168.8"/><use href="#mt" x="1902.5" y="1174.4"/><use href="#mt" x="1909" y="1173"/><use href="#mt" x="1915.4" y="1171.7"/><use href="#mt" x="1921.9" y="1160.6"/><use href="#mt" x="1928.3" y="1157.8"/><use href="#mt" x="1934.8" y="1158.5"/><use href="#mt" x="1941.2" y="1162.6"/><use href="#mt" x="1947.7" y="1155.1"/><use href="#mt" x="1954.1" y="1162"/><use href="#mt" x="1960.6" y="1163.3"/><use href="#mt" x="1967" y="1169.5"/><use href="#mt" x="1973.5" y="1171.6"/><use href="#mt" x="1979.9" y="1159.9"/><use href="#mt" x="1986.3" y="1151"/><use href="#mt" x="1992.8" y="1151.6"/><use href="#mt" x="1999.2" y="1153.8"/><use href="#mt" x="2005.7" y="1151.6"/><use href="#mt" x="2012.1" y="1149.6"/><use href="#mt" x="2018.6" y="1151.6"/><use href="#mt" x="2025" y="1157.1"/><use href="#mt" x="2031.5" y="1158"/><use href="#mt" x="2037.9" y="1159.9"/><use href="#mt" x="2044.4" y="1165.4"/><use href="#mt" x="2050.8" y="1155.2"/><use href="#mt" x="2057.3" y="1156.6"/><use href="#mt" x="2063.7" y="1155.2"/><use href="#mt" x="2070.1" y="1155.2"/><use href="#mt" x="2076.6" y="1152.3"/><use href="#mt" x="2083" y="1159.2"/><use href="#mt" x="2089.5" y="1177.2"/><use href="#mt" x="2095.9" y="1178.6"/><use href="#mt" x="2102.4" y="1169.5"/><use href="#mt" x="2108.9" y="1162.6"/><use href="#mt" x="2115.3" y="1140.1"/><use href="#mt" x="2121.7" y="1117"/><use href="#mt" x="2128.2" y="1124.8"/><use href="#mt" x="2134.6" y="1137.9"/><use href="#mt" x="2141.1" y="1130.5"/><use href="#mt" x="2147.5" y="1114.5"/><use href="#mt" x="2153.9" y="1105.3"/><use href="#mt" x="2160.4" y="1135.5"/><use href="#mt" x="2166.8" y="1166.3"/><use href="#mt" x="2173.3" y="1171"/><use href="#mt" x="2179.7" y="1173"/><use href="#mt" x="2186.2" y="1180"/><use href="#mt" x="2192.7" y="1180"/><use href="#mt" x="2199.1" y="1171"/><use href="#mt" x="2205.5" y="1149.7"/><use href="#mt" x="2212" y="1139.3"/><use href="#mt" x="2218.4" y="1118.6"/><use href="#mt" x="2224.9" y="1140.2"/><use href="#mt" x="2231.3" y="1153.9"/><use href="#mt" x="2237.8" y="1161"/><use href="#mt" x="2244.2" y="1181"/><use href="#mt" x="2250.6" y="1190.4"/><use href="#mt" x="2257.1" y="1174.7"/><use href="#mt" x="2263.5" y="1140.3"/><use href="#mt" x="2270" y="1112.1"/><use href="#mt" x="2276.5" y="1091.2"/><use href="#mt" x="2282.9" y="1102.7"/><use href="#mt" x="2289.3" y="1109.4"/><use href="#mt" x="2295.8" y="1130.7"/><use href="#mt" x="2302.2" y="1130.8"/><use href="#mt" x="2308.7" y="1106.8"/><use href="#mt" x="2315.1" y="1139.2"/><use href="#mt" x="2321.6" y="1159.5"/><use href="#mt" x="2328" y="1180"/><use href="#mt" x="2334.4" y="1153.2"/><use href="#mt" x="2340.9" y="1095.3"/><use href="#mt" x="2347.3" y="1119.3"/><use href="#mt" x="2353.8" y="1190.4"/><use href="#mt" x="2360.3" y="1190.4"/><use href="#mt" x="2366.7" y="1175.8"/><use href="#mt" x="2373.1" y="1180"/><use href="#mt" x="2379.6" y="1181"/><use href="#mt" x="2386" y="1181"/><use href="#mt" x="2392.5" y="1181"/>
<polyline points="1399.7,1167.8 1406.2,1167.4 1412.6,1166.7 1419.1,1165.1 1425.5,1164.1 1432,1158.2 1438.4,1161 1444.9,1165.6 1451.3,1167.8 1457.8,1167.8 1464.2,1167.8 1470.6,1167.8 1477.1,1166.2 1483.5,1162 1490,1167.8 1496.4,1173.7 1502.9,1175 1509.3,1175 1515.8,1175 1522.2,1175 1528.7,1174.7 1535.1,1171.4 1541.6,1165.6 1548,1165.6 1554.4,1165.6 1560.9,1163 1567.3,1163 1573.8,1168.5 1580.2,1161.7 1586.7,1154.7 1593.1,1152.1 1599.6,1162.2 1606,1168.5 1612.5,1158.2 1618.9,1158.9 1625.4,1166.7 1631.8,1166.7 1638.2,1166.7 1644.7,1169.3 1651.1,1169.2 1657.6,1169.2 1664,1169.2 1670.5,1169.2 1676.9,1169.2 1683.4,1167.6 1689.8,1160.9 1696.3,1159.8 1702.7,1159.8 1709.2,1157.2 1715.6,1157.2 1722.1,1157.2 1728.5,1152 1734.9,1143.6 1741.4,1147.3 1747.8,1154.1 1754.3,1154.1 1760.7,1154.1 1767.2,1154.1 1773.6,1148.9 1780.1,1147.8 1786.5,1147.8 1793,1138.4 1799.4,1130.6 1805.9,1134.8 1812.3,1135.3 1818.7,1135.8 1825.2,1136.4 1831.6,1136.9 1838.1,1136.4 1844.5,1135.8 1851,1135.5 1857.4,1133.8 1863.9,1124.9 1870.3,1124.9 1876.8,1124.9 1883.2,1119.9 1889.7,1119.9 1896.1,1121.7 1902.5,1123.6 1909,1124.3 1915.4,1124.7 1921.9,1123.6 1928.3,1114.7 1934.8,1107.1 1941.2,1109.9 1947.7,1121.5 1954.1,1108.5 1960.6,1105.1 1967,1105.1 1973.5,1109.9 1979.9,1111.9 1986.3,1109.9 1992.8,1096.4 1999.2,1094.7 2005.7,1091.7 2012.1,1094.7 2018.6,1094.7 2025,1094.7 2031.5,1094.7 2037.9,1091.3 2044.4,1089.3 2050.8,1089.3 2057.3,1083.8 2063.7,1083.8 2070.1,1087.9 2076.6,1090.7 2083,1076.9 2089.5,1089.3 2095.9,1095.5 2102.4,1076.2 2108.9,1076.9 2115.3,1072.8 2121.7,1072.1 2128.2,1071.4 2134.6,1070.1 2141.1,1067.3 2147.5,1067.3 2153.9,1065.9 2160.4,1064 2166.8,1061.4 2173.3,1060.3 2179.7,1065.7 2186.2,1093.1 2192.7,1136.9 2199.1,1126.8 2205.5,1107.9 2212,1093.4 2218.4,1080.1 2224.9,1080.1 2231.3,1088.1 2237.8,1085.5 2244.2,1066.1 2250.6,1062.4 2257.1,1078.8 2263.5,1102.9 2270,1111.6 2276.5,1039.9 2282.9,1004.2 2289.3,1025.1 2295.8,1059 2302.2,1075.1 2308.7,1045.9 2315.1,1020.2 2321.6,1025.4 2328,1052.7 2334.4,1072 2340.9,1057.4 2347.3,1030.6 2353.8,964.4 2360.3,975.6 2366.7,1039.7 2373.1,1131 2379.6,1181.3 2386,1180 2392.5,1173" fill="none" stroke="#ff7f0e" stroke-width="7.6" stroke-linejoin="round" stroke-linecap="butt"/>
<use href="#ms" x="1399.7" y="1167.8"/><use href="#ms" x="1406.2" y="1167.4"/><use href="#ms" x="1412.6" y="1166.7"/><use href="#ms" x="1419.1" y="1165.1"/><use href="#ms" x="1425.5" y="1164.1"/><use href="#ms" x="1432" y="1158.2"/><use href="#ms" x="1438.4" y="1161"/><use href="#ms" x="1444.9" y="1165.6"/><use href="#ms" x="1451.3" y="1167.8"/><use href="#ms" x="1457.8" y="1167.8"/><use href="#ms" x="1464.2" y="1167.8"/><use href="#ms" x="1470.6" y="1167.8"/><use href="#ms" x="1477.1" y="1166.2"/><use href="#ms" x="1483.5" y="1162"/><use href="#ms" x="1490" y="1167.8"/><use href="#ms" x="1496.4" y="1173.7"/><use href="#ms" x="1502.9" y="1175"/><use href="#ms" x="1509.3" y="1175"/><use href="#ms" x="1515.8" y="1175"/><use href="#ms" x="1522.2" y="1175"/><use href="#ms" x="1528.7" y="1174.7"/><use href="#ms" x="1535.1" y="1171.4"/><use href="#ms" x="1541.6" y="1165.6"/><use href="#ms" x="1548" y="1165.6"/><use href="#ms" x="1554.4" y="1165.6"/><use href="#ms" x="1560.9" y="1163"/><use href="#ms" x="1567.3" y="1163"/><use href="#ms" x="1573.8" y="1168.5"/><use href="#ms" x="1580.2" y="1161.7"/><use href="#ms" x="1586.7" y="1154.7"/><use href="#ms" x="1593.1" y="1152.1"/><use href="#ms" x="1599.6" y="1162.2"/><use href="#ms" x="1606" y="1168.5"/><use href="#ms" x="1612.5" y="1158.2"/><use href="#ms" x="1618.9" y="1158.9"/><use href="#ms" x="1625.4" y="1166.7"/><use href="#ms" x="1631.8" y="1166.7"/><use href="#ms" x="1638.2" y="1166.7"/><use href="#ms" x="1644.7" y="1169.3"/><use href="#ms" x="1651.1" y="1169.2"/><use href="#ms" x="1657.6" y="1169.2"/><use href="#ms" x="1664" y="1169.2"/><use href="#ms" x="1670.5" y="1169.2"/><use href="#ms" x="1676.9" y="1169.2"/><use href="#ms" x="1683.4" y="1167.6"/><use href="#ms" x="1689.8" y="1160.9"/><use href="#ms" x="1696.3" y="1159.8"/><use href="#ms" x="1702.7" y="1159.8"/><use href="#ms" x="1709.2" y="1157.2"/><use href="#ms" x="1715.6" y="1157.2"/><use href="#ms" x="1722.1" y="1157.2"/><use href="#ms" x="1728.5" y="1152"/><use href="#ms" x="1734.9" y="1143.6"/><use href="#ms" x="1741.4" y="1147.3"/><use href="#ms" x="1747.8" y="1154.1"/><use href="#ms" x="1754.3" y="1154.1"/><use href="#ms" x="1760.7" y="1154.1"/><use href="#ms" x="1767.2" y="1154.1"/><use href="#ms" x="1773.6" y="1148.9"/><use href="#ms" x="1780.1" y="1147.8"/><use href="#ms" x="1786.5" y="1147.8"/><use href="#ms" x="1793" y="1138.4"/><use href="#ms" x="1799.4" y="1130.6"/><use href="#ms" x="1805.9" y="1134.8"/><use href="#ms" x="1812.3" y="1135.3"/><use href="#ms" x="1818.7" y="1135.8"/><use href="#ms" x="1825.2" y="1136.4"/><use href="#ms" x="1831.6" y="1136.9"/><use href="#ms" x="1838.1" y="1136.4"/><use href="#ms" x="1844.5" y="1135.8"/><use href="#ms" x="1851" y="1135.5"/><use href="#ms" x="1857.4" y="1133.8"/><use href="#ms" x="1863.9" y="1124.9"/><use href="#ms" x="1870.3" y="1124.9"/><use href="#ms" x="1876.8" y="1124.9"/><use href="#ms" x="1883.2" y="1119.9"/><use href="#ms" x="1889.7" y="1119.9"/><use href="#ms" x="1896.1" y="1121.7"/><use href="#ms" x="1902.5" y="1123.6"/><use href="#ms" x="1909" y="1124.3"/><use href="#ms" x="1915.4" y="1124.7"/><use href="#ms" x="1921.9" y="1123.6"/><use href="#ms" x="1928.3" y="1114.7"/><use href="#ms" x="1934.8" y="1107.1"/><use href="#ms" x="1941.2" y="1109.9"/><use href="#ms" x="1947.7" y="1121.5"/><use href="#ms" x="1954.1" y="1108.5"/><use href="#ms" x="1960.6" y="1105.1"/><use href="#ms" x="1967" y="1105.1"/><use href="#ms" x="1973.5" y="1109.9"/><use href="#ms" x="1979.9" y="1111.9"/><use href="#ms" x="1986.3" y="1109.9"/><use href="#ms" x="1992.8" y="1096.4"/><use href="#ms" x="1999.2" y="1094.7"/><use href="#ms" x="2005.7" y="1091.7"/><use href="#ms" x="2012.1" y="1094.7"/><use href="#ms" x="2018.6" y="1094.7"/><use href="#ms" x="2025" y="1094.7"/><use href="#ms" x="2031.5" y="1094.7"/><use href="#ms" x="2037.9" y="1091.3"/><use href="#ms" x="2044.4" y="1089.3"/><use href="#ms" x="2050.8" y="1089.3"/><use href="#ms" x="2057.3" y="1083.8"/><use href="#ms" x="2063.7" y="1083.8"/><use href="#ms" x="2070.1" y="1087.9"/><use href="#ms" x="2076.6" y="1090.7"/><use href="#ms" x="2083" y="1076.9"/><use href="#ms" x="2089.5" y="1089.3"/><use href="#ms" x="2095.9" y="1095.5"/><use href="#ms" x="2102.4" y="1076.2"/><use href="#ms" x="2108.9" y="1076.9"/><use href="#ms" x="2115.3" y="1072.8"/><use href="#ms" x="2121.7" y="1072.1"/><use href="#ms" x="2128.2" y="1071.4"/><use href="#ms" x="2134.6" y="1070.1"/><use href="#ms" x="2141.1" y="1067.3"/><use href="#ms" x="2147.5" y="1067.3"/><use href="#ms" x="2153.9" y="1065.9"/><use href="#ms" x="2160.4" y="1064"/><use href="#ms" x="2166.8" y="1061.4"/><use href="#ms" x="2173.3" y="1060.3"/><use href="#ms" x="2179.7" y="1065.7"/><use href="#ms" x="2186.2" y="1093.1"/><use href="#ms" x="2192.7" y="1136.9"/><use href="#ms" x="2199.1" y="1126.8"/><use href="#ms" x="2205.5" y="1107.9"/><use href="#ms" x="2212" y="1093.4"/><use href="#ms" x="2218.4" y="1080.1"/><use href="#ms" x="2224.9" y="1080.1"/><use href="#ms" x="2231.3" y="1088.1"/><use href="#ms" x="2237.8" y="1085.5"/><use href="#ms" x="2244.2" y="1066.1"/><use href="#ms" x="2250.6" y="1062.4"/><use href="#ms" x="2257.1" y="1078.8"/><use href="#ms" x="2263.5" y="1102.9"/><use href="#ms" x="2270" y="1111.6"/><use href="#ms" x="2276.5" y="1039.9"/><use href="#ms" x="2282.9" y="1004.2"/><use href="#ms" x="2289.3" y="1025.1"/><use href="#ms" x="2295.8" y="1059"/><use href="#ms" x="2302.2" y="1075.1"/><use href="#ms" x="2308.7" y="1045.9"/><use href="#ms" x="2315.1" y="1020.2"/><use href="#ms" x="2321.6" y="1025.4"/><use href="#ms" x="2328" y="1052.7"/><use href="#ms" x="2334.4" y="1072"/><use href="#ms" x="2340.9" y="1057.4"/><use href="#ms" x="2347.3" y="1030.6"/><use href="#ms" x="2353.8" y="964.4"/><use href="#ms" x="2360.3" y="975.6"/><use href="#ms" x="2366.7" y="1039.7"/><use href="#ms" x="2373.1" y="1131"/><use href="#ms" x="2379.6" y="1181.3"/><use href="#ms" x="2386" y="1180"/><use href="#ms" x="2392.5" y="1173"/>
<polyline points="1398.4,1179.1 1405.1,1179.1 1411.8,1179.1 1418.5,1179.1 1425.1,1179 1431.8,1179 1438.5,1179 1445.2,1179 1451.9,1179 1458.6,1179 1465.3,1179 1471.9,1179 1478.6,1178.9 1485.3,1178.9 1492,1178.9 1498.7,1178.9 1505.4,1178.9 1512.1,1178.9 1518.7,1178.9 1525.4,1178.9 1532.1,1178.8 1538.8,1178.8 1545.5,1178.8 1552.2,1178.8 1558.8,1178.8 1565.5,1178.7 1572.2,1178.7 1578.9,1178.7 1585.6,1178.7 1592.3,1178.6 1599,1178.6 1605.6,1178.6 1612.3,1178.5 1619,1178.5 1625.7,1178.4 1632.4,1178.3 1639.1,1178.2 1645.8,1177.6 1652.4,1178.1 1659.1,1176.5 1665.8,1176.9 1672.5,1175.1 1679.2,1176.9 1685.9,1175.3 1692.6,1176.7 1699.2,1176.3 1705.9,1176.1 1712.6,1176.2 1719.3,1173.2 1726,1176.4 1732.7,1173.5 1739.4,1175.2 1746,1174.6 1752.7,1171.2 1759.4,1176.3 1766.1,1171.6 1772.8,1173.4 1779.5,1174.7 1786.1,1167 1792.8,1175.2 1799.5,1174.2 1806.2,1166.1 1812.9,1174.6 1819.6,1169.6 1826.3,1164.6 1832.9,1173.3 1839.6,1166.6 1846.3,1160.4 1853,1169.3 1859.7,1172 1866.4,1161.1 1873.1,1163.8 1879.7,1170.6 1886.4,1165.5 1893.1,1157.1 1899.8,1160.7 1906.5,1167.6 1913.2,1168.5 1919.9,1161 1926.5,1151.3 1933.2,1154.7 1939.9,1161.9 1946.6,1166.1 1953.3,1166 1960,1163.9 1966.7,1159.2 1973.3,1154.6 1980,1150.3 1986.7,1148.1 1993.4,1147 2000.1,1148.1 2006.8,1150.6 2013.5,1154.4 2020.1,1157.3 2026.8,1157.5 2033.5,1152.2 2040.2,1135.9 2046.9,1143.1 2053.6,1153.7 2060.2,1137.6 2066.9,1144.4 2073.6,1142 2080.3,1143.9 2087,1128.6 2093.7,1136 2100.4,1142.3 2107,1140 2113.7,1131.3 2120.4,1127.3 2127.1,1125 2133.8,1123.8 2140.5,1128.1 2147.2,1122.8 2153.8,1122.1 2160.5,1120.4 2167.2,1117.7 2173.9,1113.5 2180.6,1106.4 2187.3,1151.9 2194,1164.3 2200.6,1145.8 2207.3,1135.8 2214,1131.7 2220.7,1130 2227.4,1129 2234.1,1128.2 2240.8,1127.6 2247.4,1127 2254.1,1126.6 2260.8,1126.2 2267.5,1125.8 2274.2,1125.5 2280.9,1125.2 2287.5,1125 2294.2,1124.8 2300.9,1124.7 2307.6,1124.5 2314.3,1124.4 2321,1124.4 2327.7,1124.5 2334.3,1124.9 2341,1125.6 2347.7,1127.6 2354.4,1132.5 2361.1,1144.5 2367.8,1160.9 2374.5,1171.7 2381.1,1175 2387.8,1176.1 2394.5,1176.9 2401.2,1177.1" fill="none" stroke="#00ffff" stroke-width="7.6" stroke-linejoin="round" stroke-linecap="butt"/>
<polyline points="1398.4,1179.1 1405.1,1179.1 1411.8,1179 1418.5,1179 1425.1,1179 1431.8,1178.9 1438.5,1178.9 1445.2,1178.9 1451.9,1178.9 1458.6,1178.8 1465.3,1178.8 1471.9,1178.8 1478.6,1178.7 1485.3,1178.7 1492,1178.7 1498.7,1178.7 1505.4,1178.6 1512.1,1178.6 1518.7,1178.6 1525.4,1178.5 1532.1,1178.5 1538.8,1178.4 1545.5,1178.4 1552.2,1178.4 1558.8,1178.3 1565.5,1178.3 1572.2,1178.2 1578.9,1178.2 1585.6,1178.1 1592.3,1178 1599,1178 1605.6,1177.9 1612.3,1177.8 1619,1177.7 1625.7,1177.5 1632.4,1177.3 1639.1,1177 1645.8,1175.6 1652.4,1176.7 1659.1,1172.9 1665.8,1174 1672.5,1169.7 1679.2,1174 1685.9,1170.3 1692.6,1173.4 1699.2,1172.6 1705.9,1172 1712.6,1172.2 1719.3,1165.3 1726,1172.9 1732.7,1165.9 1739.4,1170 1746,1168.6 1752.7,1160.7 1759.4,1172.6 1766.1,1161.4 1772.8,1165.7 1779.5,1168.8 1786.1,1150.8 1792.8,1169.9 1799.5,1167.7 1806.2,1148.6 1812.9,1168.5 1819.6,1156.8 1826.3,1145.1 1832.9,1165.6 1839.6,1149.8 1846.3,1135.1 1853,1155.9 1859.7,1162.1 1866.4,1135.6 1873.1,1141.6 1879.7,1158 1886.4,1144.8 1893.1,1123.1 1899.8,1131.7 1906.5,1149.5 1913.2,1151.9 1919.9,1132.4 1926.5,1107.5 1933.2,1116.3 1939.9,1134.8 1946.6,1145.5 1953.3,1145.3 1960,1139.8 1966.7,1127.8 1973.3,1115.8 1980,1104.6 1986.7,1098.9 1993.4,1096.2 2000.1,1098.9 2006.8,1105.2 2013.5,1115 2020.1,1122.3 2026.8,1122.6 2033.5,1108.6 2040.2,1065.7 2046.9,1084.5 2053.6,1112 2060.2,1069.4 2066.9,1087.2 2073.6,1080.5 2080.3,1085.3 2087,1044.5 2093.7,1064 2100.4,1080.5 2107,1074.1 2113.7,1050.5 2120.4,1039.6 2127.1,1033.3 2133.8,1029.9 2140.5,1041.5 2147.2,1027.1 2153.8,1025.3 2160.5,1020.6 2167.2,1013.3 2173.9,1001.8 2180.6,984.5 2187.3,1086.6 2194,1138.4 2200.6,1085.7 2207.3,1061.9 2214,1055 2220.7,1050.8 2227.4,1047 2234.1,1044.1 2240.8,1042 2247.4,1040.3 2254.1,1038.5 2260.8,1036.9 2267.5,1035.3 2274.2,1033.7 2280.9,1032.2 2287.5,1030.8 2294.2,1029.5 2300.9,1028.4 2307.6,1027.5 2314.3,1026.7 2321,1026.5 2327.7,1026.8 2334.3,1027.5 2341,1030.1 2347.7,1034.6 2354.4,1043.7 2361.1,1067.3 2367.8,1121.8 2374.5,1151.1 2381.1,1162.6 2387.8,1167.3 2394.5,1169.8 2401.2,1170.9" fill="none" stroke="#ff0000" stroke-width="7.6" stroke-linejoin="round" stroke-linecap="butt"/>
</g>
<path d="M1398.4 1179.1v18M1565.5 1179.1v18M1732.7 1179.1v18M1899.8 1179.1v18M2066.9 1179.1v18M2234.1 1179.1v18M2401.2 1179.1v18M1398.4 1179.1h-18M1398.4 1045.7h-18M1398.4 912.3h-18M1398.4 779h-18M1398.4 645.6h-18" stroke="#000" stroke-width="4.2" fill="none"/>
<rect x="1398.4" y="645.6" width="1002.8" height="533.5" fill="none" stroke="#000" stroke-width="4.2" stroke-linejoin="miter"/>
<text x="1362.8" y="1198.8" text-anchor="end" class="t">0</text>
<text x="1362.8" y="1065.4" text-anchor="end" class="t">2</text>
<text x="1362.8" y="932" text-anchor="end" class="t">4</text>
<text x="1362.8" y="798.7" text-anchor="end" class="t">6</text>
<text x="1362.8" y="665.3" text-anchor="end" class="t">8</text>
<text x="1398.4" y="1254.9" text-anchor="middle" class="t">150</text>
<text x="1565.5" y="1254.9" text-anchor="middle" class="t">200</text>
<text x="1732.7" y="1254.9" text-anchor="middle" class="t">250</text>
<text x="1899.8" y="1254.9" text-anchor="middle" class="t">300</text>
<text x="2066.9" y="1254.9" text-anchor="middle" class="t">350</text>
<text x="2234.1" y="1254.9" text-anchor="middle" class="t">400</text>
<text x="2401.2" y="1254.9" text-anchor="middle" class="t">450</text>
<text transform="translate(1790.8,1328.8) scale(1.18,1)" style="font-family:'Liberation Serif','DejaVu Serif',serif;font-style:italic;font-size:46.8px">ν</text>
<text transform="translate(1791,1309.1) scale(1,0.7)" style="font-family:'Liberation Serif','DejaVu Serif',serif;font-size:49.4px">~</text>
<text x="1847.1" y="1329.5" class="t">[cm</text>
<text transform="translate(1948.9,1312.5) scale(1.24,1)" style="font-family:'Liberation Serif','DejaVu Serif',serif;font-size:36px">−</text>
<text x="1976.1" y="1309.5" style="font-family:'Liberation Serif','DejaVu Serif',serif;font-size:35.3px">1</text>
<text transform="translate(1996.3,1334.2) scale(0.535,1)" style="font-family:'Liberation Serif','DejaVu Serif',serif;font-size:61.7px">]</text>
<rect x="1437" y="674.1" width="381.2" height="80.9" rx="12.5" ry="12.5" fill="#fff" stroke="#000" stroke-width="4.8"/>
<text x="1452.7" y="728.3" class="t">D)</text>
<text transform="translate(1526,728.3) scale(1.163,1)" style="font-family:'Liberation Serif','DejaVu Serif',serif;font-style:italic;font-size:52.9px">T</text>
<text transform="translate(1559.1,736.9) scale(1.055,1)" style="font-family:'Liberation Serif','DejaVu Serif',serif;font-style:italic;font-size:32.1px">c</text>
<text x="1593.4" y="728.3" class="t" xml:space="preserve">= 131 K</text>
</g>
<g id="legend">
<rect x="1432" y="785.4" width="425.7" height="322.6" rx="11" ry="11" fill="#4d4d4d" fill-opacity="0.5"/>
<rect x="1425" y="778.4" width="420.9" height="317.8" rx="9" ry="9" fill="#fff" stroke="#cccccc" stroke-width="4.8"/>
<path d="M1440.7 820.2H1552" stroke="#1f77b4" stroke-width="7.6" fill="none"/>
<use href="#mt" x="1496.4" y="820.2"/>
<text x="1589" y="838.6" class="t">60 V</text>
<path d="M1440.7 895.7H1552" stroke="#ff7f0e" stroke-width="7.6" fill="none"/>
<use href="#ms" x="1496.4" y="895.7"/>
<text x="1589" y="914.1" class="t">90 V</text>
<path d="M1440.7 971.1H1552" stroke="#00ffff" stroke-width="7.6" fill="none"/>
<text x="1589" y="989.5" class="t">60 V calc</text>
<path d="M1440.7 1046.6H1552" stroke="#ff0000" stroke-width="7.6" fill="none"/>
<text x="1589" y="1065" class="t">90 V calc</text>
</g>
<text transform="translate(77.6,684.7) rotate(-90)" text-anchor="middle" class="t">Amplitude [arb. units]</text>
</g>
</svg></body></html>
